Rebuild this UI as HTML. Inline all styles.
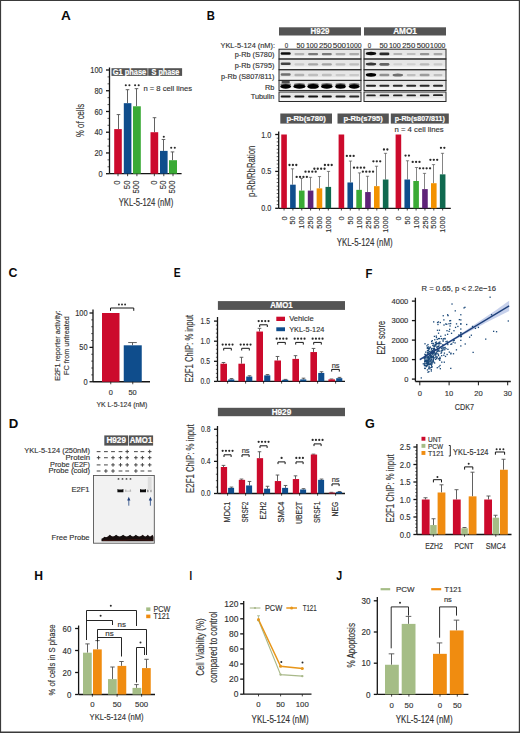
<!DOCTYPE html>
<html><head><meta charset="utf-8"><title>Figure</title>
<style>html,body{margin:0;padding:0;background:#fff;width:520px;height:733px;overflow:hidden}svg{display:block}
text{font-family:"Liberation Sans", sans-serif}</style></head>
<body><svg width="520" height="733" viewBox="0 0 520 733" font-family='"Liberation Sans", sans-serif' fill="#333"><rect x="0" y="0" width="520" height="733" fill="#fff"/>
<text x="61.10" y="19.50" font-size="13.7" font-weight="bold" fill="#0a0a0a" textLength="9.83" lengthAdjust="spacingAndGlyphs">A</text>
<rect x="111.50" y="68.20" width="70.60" height="7.70" fill="#545454"/>
<text x="146.80" y="74.55" font-size="7.5" stroke="#fff" stroke-width="0.2" text-anchor="middle" font-weight="bold" fill="#fff"></text>
<line x1="147.90" y1="68.20" x2="147.90" y2="75.90" stroke="#fff" stroke-width="0.6"/>
<text x="112.80" y="74.80" font-size="8.2" stroke="#fff" stroke-width="0.2" font-weight="bold" fill="#fff" textLength="33.40" lengthAdjust="spacingAndGlyphs">G1 phase</text>
<text x="151.60" y="74.80" font-size="8.2" stroke="#fff" stroke-width="0.2" font-weight="bold" fill="#fff" textLength="27.70" lengthAdjust="spacingAndGlyphs">S phase</text>
<line x1="109.50" y1="67.50" x2="109.50" y2="173.70" stroke="#151515" stroke-width="1.3"/>
<line x1="106.00" y1="173.70" x2="109.50" y2="173.70" stroke="#151515" stroke-width="1.3"/>
<text x="102.70" y="176.72" font-size="8.4" stroke="#333" stroke-width="0.15" text-anchor="end" textLength="4.11" lengthAdjust="spacingAndGlyphs">0</text>
<line x1="106.00" y1="152.96" x2="109.50" y2="152.96" stroke="#151515" stroke-width="1.3"/>
<text x="102.70" y="155.98" font-size="8.4" stroke="#333" stroke-width="0.15" text-anchor="end" textLength="8.22" lengthAdjust="spacingAndGlyphs">20</text>
<line x1="106.00" y1="132.22" x2="109.50" y2="132.22" stroke="#151515" stroke-width="1.3"/>
<text x="102.70" y="135.24" font-size="8.4" stroke="#333" stroke-width="0.15" text-anchor="end" textLength="8.22" lengthAdjust="spacingAndGlyphs">40</text>
<line x1="106.00" y1="111.48" x2="109.50" y2="111.48" stroke="#151515" stroke-width="1.3"/>
<text x="102.70" y="114.50" font-size="8.4" stroke="#333" stroke-width="0.15" text-anchor="end" textLength="8.22" lengthAdjust="spacingAndGlyphs">60</text>
<line x1="106.00" y1="90.74" x2="109.50" y2="90.74" stroke="#151515" stroke-width="1.3"/>
<text x="102.70" y="93.76" font-size="8.4" stroke="#333" stroke-width="0.15" text-anchor="end" textLength="8.22" lengthAdjust="spacingAndGlyphs">80</text>
<line x1="106.00" y1="70.00" x2="109.50" y2="70.00" stroke="#151515" stroke-width="1.3"/>
<text x="102.70" y="73.02" font-size="8.4" stroke="#333" stroke-width="0.15" text-anchor="end" textLength="12.33" lengthAdjust="spacingAndGlyphs">100</text>
<line x1="107.50" y1="166.79" x2="109.50" y2="166.79" stroke="#151515" stroke-width="0.7"/>
<line x1="107.50" y1="159.87" x2="109.50" y2="159.87" stroke="#151515" stroke-width="0.7"/>
<line x1="107.50" y1="146.05" x2="109.50" y2="146.05" stroke="#151515" stroke-width="0.7"/>
<line x1="107.50" y1="139.13" x2="109.50" y2="139.13" stroke="#151515" stroke-width="0.7"/>
<line x1="107.50" y1="125.31" x2="109.50" y2="125.31" stroke="#151515" stroke-width="0.7"/>
<line x1="107.50" y1="118.39" x2="109.50" y2="118.39" stroke="#151515" stroke-width="0.7"/>
<line x1="107.50" y1="104.57" x2="109.50" y2="104.57" stroke="#151515" stroke-width="0.7"/>
<line x1="107.50" y1="97.65" x2="109.50" y2="97.65" stroke="#151515" stroke-width="0.7"/>
<line x1="107.50" y1="83.83" x2="109.50" y2="83.83" stroke="#151515" stroke-width="0.7"/>
<line x1="107.50" y1="76.91" x2="109.50" y2="76.91" stroke="#151515" stroke-width="0.7"/>
<line x1="109.50" y1="173.70" x2="181.60" y2="173.70" stroke="#151515" stroke-width="1.3"/>
<line x1="118.50" y1="129.11" x2="118.50" y2="114.59" stroke="#505050" stroke-width="0.9"/>
<line x1="116.70" y1="114.59" x2="120.30" y2="114.59" stroke="#505050" stroke-width="0.9"/>
<rect x="114.20" y="129.11" width="7.60" height="44.59" fill="#cc0a2c"/>
<line x1="118.00" y1="173.70" x2="118.00" y2="176.20" stroke="#151515" stroke-width="0.8"/>
<text x="120.30" y="180.50" font-size="8.4" stroke="#333" stroke-width="0.15" text-anchor="end" transform="rotate(-90 120.30 180.50)" textLength="4.34" lengthAdjust="spacingAndGlyphs">0</text>
<line x1="127.50" y1="103.18" x2="127.50" y2="89.70" stroke="#505050" stroke-width="0.9"/>
<line x1="125.70" y1="89.70" x2="129.30" y2="89.70" stroke="#505050" stroke-width="0.9"/>
<rect x="123.80" y="103.18" width="7.60" height="70.52" fill="#0f4d8c"/>
<line x1="127.60" y1="173.70" x2="127.60" y2="176.20" stroke="#151515" stroke-width="0.8"/>
<text x="129.90" y="180.50" font-size="8.4" stroke="#333" stroke-width="0.15" text-anchor="end" transform="rotate(-90 129.90 180.50)" textLength="8.69" lengthAdjust="spacingAndGlyphs">50</text>
<line x1="136.50" y1="106.29" x2="136.50" y2="88.67" stroke="#505050" stroke-width="0.9"/>
<line x1="134.70" y1="88.67" x2="138.30" y2="88.67" stroke="#505050" stroke-width="0.9"/>
<rect x="133.00" y="106.29" width="7.80" height="67.41" fill="#3aaa35"/>
<line x1="136.90" y1="173.70" x2="136.90" y2="176.20" stroke="#151515" stroke-width="0.8"/>
<text x="139.20" y="180.50" font-size="8.4" stroke="#333" stroke-width="0.15" text-anchor="end" transform="rotate(-90 139.20 180.50)" textLength="13.03" lengthAdjust="spacingAndGlyphs">500</text>
<line x1="154.50" y1="132.22" x2="154.50" y2="117.70" stroke="#505050" stroke-width="0.9"/>
<line x1="152.70" y1="117.70" x2="156.30" y2="117.70" stroke="#505050" stroke-width="0.9"/>
<rect x="150.50" y="132.22" width="7.70" height="41.48" fill="#cc0a2c"/>
<line x1="154.35" y1="173.70" x2="154.35" y2="176.20" stroke="#151515" stroke-width="0.8"/>
<text x="156.65" y="180.50" font-size="8.4" stroke="#333" stroke-width="0.15" text-anchor="end" transform="rotate(-90 156.65 180.50)" textLength="4.34" lengthAdjust="spacingAndGlyphs">0</text>
<line x1="163.50" y1="150.89" x2="163.50" y2="139.48" stroke="#505050" stroke-width="0.9"/>
<line x1="161.70" y1="139.48" x2="165.30" y2="139.48" stroke="#505050" stroke-width="0.9"/>
<rect x="160.00" y="150.89" width="7.60" height="22.81" fill="#0f4d8c"/>
<line x1="163.80" y1="173.70" x2="163.80" y2="176.20" stroke="#151515" stroke-width="0.8"/>
<text x="166.10" y="180.50" font-size="8.4" stroke="#333" stroke-width="0.15" text-anchor="end" transform="rotate(-90 166.10 180.50)" textLength="8.69" lengthAdjust="spacingAndGlyphs">50</text>
<line x1="172.50" y1="160.22" x2="172.50" y2="151.92" stroke="#505050" stroke-width="0.9"/>
<line x1="170.70" y1="151.92" x2="174.30" y2="151.92" stroke="#505050" stroke-width="0.9"/>
<rect x="169.00" y="160.22" width="8.00" height="13.48" fill="#3aaa35"/>
<line x1="173.00" y1="173.70" x2="173.00" y2="176.20" stroke="#151515" stroke-width="0.8"/>
<text x="175.30" y="180.50" font-size="8.4" stroke="#333" stroke-width="0.15" text-anchor="end" transform="rotate(-90 175.30 180.50)" textLength="13.03" lengthAdjust="spacingAndGlyphs">500</text>
<circle cx="125.80" cy="85.20" r="1.05" fill="#2a2a2a"/>
<circle cx="129.40" cy="85.20" r="1.05" fill="#2a2a2a"/>
<circle cx="135.10" cy="85.20" r="1.05" fill="#2a2a2a"/>
<circle cx="138.70" cy="85.20" r="1.05" fill="#2a2a2a"/>
<circle cx="163.80" cy="136.80" r="1.05" fill="#2a2a2a"/>
<circle cx="171.20" cy="147.80" r="1.05" fill="#2a2a2a"/>
<circle cx="174.80" cy="147.80" r="1.05" fill="#2a2a2a"/>
<text x="143.40" y="91.20" font-size="7.8" stroke="#333" stroke-width="0.15" textLength="48.60" lengthAdjust="spacingAndGlyphs">n = 8 cell lines</text>
<text x="146.00" y="206.40" font-size="10.3" stroke="#333" stroke-width="0.15" text-anchor="middle" textLength="54.60" lengthAdjust="spacingAndGlyphs">YKL-5-124 (nM)</text>
<text x="84.20" y="120.40" font-size="10" stroke="#333" stroke-width="0.15" text-anchor="middle" transform="rotate(-90 84.20 120.40)" textLength="33.00" lengthAdjust="spacingAndGlyphs">% of cells</text>
<text x="206.80" y="19.70" font-size="13.7" font-weight="bold" fill="#0a0a0a" textLength="8.12" lengthAdjust="spacingAndGlyphs">B</text>
<rect x="279.00" y="27.30" width="82.00" height="8.20" fill="#545454"/>
<text x="320.00" y="34.15" font-size="8.2" stroke="#fff" stroke-width="0.2" text-anchor="middle" font-weight="bold" fill="#fff" textLength="18.80" lengthAdjust="spacingAndGlyphs">H929</text>
<rect x="364.00" y="27.30" width="82.00" height="8.20" fill="#545454"/>
<text x="405.00" y="34.15" font-size="8.2" stroke="#fff" stroke-width="0.2" text-anchor="middle" font-weight="bold" fill="#fff" textLength="23.70" lengthAdjust="spacingAndGlyphs">AMO1</text>
<text x="275.00" y="48.10" font-size="7.4" stroke="#333" stroke-width="0.15" text-anchor="end" textLength="54.50" lengthAdjust="spacingAndGlyphs">YKL-5-124 (nM):</text>
<text x="286.40" y="48.00" font-size="8" stroke="#333" stroke-width="0.15" text-anchor="middle" textLength="3.40" lengthAdjust="spacingAndGlyphs">0</text>
<text x="300.40" y="48.00" font-size="8" stroke="#333" stroke-width="0.15" text-anchor="middle" textLength="8.00" lengthAdjust="spacingAndGlyphs">50</text>
<text x="311.85" y="48.00" font-size="8" stroke="#333" stroke-width="0.15" text-anchor="middle" textLength="11.90" lengthAdjust="spacingAndGlyphs">100</text>
<text x="325.45" y="48.00" font-size="8" stroke="#333" stroke-width="0.15" text-anchor="middle" textLength="12.90" lengthAdjust="spacingAndGlyphs">250</text>
<text x="339.40" y="48.00" font-size="8" stroke="#333" stroke-width="0.15" text-anchor="middle" textLength="13.40" lengthAdjust="spacingAndGlyphs">500</text>
<text x="353.95" y="48.00" font-size="8" stroke="#333" stroke-width="0.15" text-anchor="middle" textLength="15.30" lengthAdjust="spacingAndGlyphs">1000</text>
<text x="369.40" y="48.00" font-size="8" stroke="#333" stroke-width="0.15" text-anchor="middle" textLength="3.40" lengthAdjust="spacingAndGlyphs">0</text>
<text x="383.55" y="48.00" font-size="8" stroke="#333" stroke-width="0.15" text-anchor="middle" textLength="8.30" lengthAdjust="spacingAndGlyphs">50</text>
<text x="394.85" y="48.00" font-size="8" stroke="#333" stroke-width="0.15" text-anchor="middle" textLength="11.90" lengthAdjust="spacingAndGlyphs">100</text>
<text x="408.75" y="48.00" font-size="8" stroke="#333" stroke-width="0.15" text-anchor="middle" textLength="12.90" lengthAdjust="spacingAndGlyphs">250</text>
<text x="423.15" y="48.00" font-size="8" stroke="#333" stroke-width="0.15" text-anchor="middle" textLength="12.90" lengthAdjust="spacingAndGlyphs">500</text>
<text x="437.75" y="48.00" font-size="8" stroke="#333" stroke-width="0.15" text-anchor="middle" textLength="15.30" lengthAdjust="spacingAndGlyphs">1000</text>
<text x="274.40" y="56.80" font-size="7.3" stroke="#333" stroke-width="0.15" text-anchor="end">p-Rb (S780)</text>
<text x="274.40" y="67.90" font-size="7.3" stroke="#333" stroke-width="0.15" text-anchor="end">p-Rb (S795)</text>
<text x="274.40" y="78.80" font-size="7.3" stroke="#333" stroke-width="0.15" text-anchor="end">p-Rb (S807/811)</text>
<text x="274.40" y="89.80" font-size="7.3" stroke="#333" stroke-width="0.15" text-anchor="end">Rb</text>
<text x="274.40" y="99.20" font-size="7.3" stroke="#333" stroke-width="0.15" text-anchor="end">Tubulin</text>
<defs><filter id="bl" x="-20%" y="-50%" width="140%" height="200%"><feGaussianBlur stdDeviation="0.55"/></filter><filter id="bl2" x="-20%" y="-50%" width="140%" height="200%"><feGaussianBlur stdDeviation="0.9"/></filter></defs>
<rect x="279.00" y="49.20" width="82.00" height="9.80" fill="#e6e6e6"/>
<rect x="279.50" y="55.80" width="81.00" height="2.60" fill="#f4f4f4"/>
<rect x="279.00" y="59.00" width="82.00" height="10.70" fill="#e6e6e6"/>
<rect x="279.50" y="66.50" width="81.00" height="2.60" fill="#f4f4f4"/>
<rect x="279.00" y="69.70" width="82.00" height="10.70" fill="#e6e6e6"/>
<rect x="279.50" y="77.20" width="81.00" height="2.60" fill="#f4f4f4"/>
<rect x="279.00" y="80.40" width="82.00" height="10.10" fill="#e6e6e6"/>
<rect x="279.50" y="87.30" width="81.00" height="2.60" fill="#f4f4f4"/>
<rect x="279.00" y="92.00" width="82.00" height="9.50" fill="#e6e6e6"/>
<rect x="279.50" y="98.30" width="81.00" height="2.60" fill="#f4f4f4"/>
<rect x="280.70" y="52.20" width="10.00" height="2.60" rx="1.30" fill="rgb(10,10,10)" filter="url(#bl)"/>
<rect x="294.40" y="53.00" width="10.00" height="2.20" rx="1.10" fill="rgb(178,178,178)" filter="url(#bl)"/>
<rect x="308.10" y="52.90" width="10.00" height="2.40" rx="1.20" fill="rgb(122,122,122)" filter="url(#bl)"/>
<rect x="321.80" y="52.90" width="10.00" height="2.40" rx="1.20" fill="rgb(122,122,122)" filter="url(#bl)"/>
<rect x="335.50" y="53.00" width="10.00" height="2.20" rx="1.10" fill="rgb(172,172,172)" filter="url(#bl)"/>
<rect x="349.20" y="53.00" width="10.00" height="2.20" rx="1.10" fill="rgb(172,172,172)" filter="url(#bl)"/>
<rect x="280.70" y="62.45" width="10.00" height="2.60" rx="1.30" fill="rgb(66,66,66)" filter="url(#bl)"/>
<rect x="294.40" y="63.25" width="10.00" height="2.20" rx="1.10" fill="rgb(201,201,201)" filter="url(#bl)"/>
<rect x="308.10" y="63.15" width="10.00" height="2.40" rx="1.20" fill="rgb(167,167,167)" filter="url(#bl)"/>
<rect x="321.80" y="63.15" width="10.00" height="2.40" rx="1.20" fill="rgb(163,163,163)" filter="url(#bl)"/>
<rect x="335.50" y="63.25" width="10.00" height="2.20" rx="1.10" fill="rgb(190,190,190)" filter="url(#bl)"/>
<rect x="349.20" y="63.25" width="10.00" height="2.20" rx="1.10" fill="rgb(190,190,190)" filter="url(#bl)"/>
<rect x="280.70" y="73.15" width="10.00" height="2.60" rx="1.30" fill="rgb(111,111,111)" filter="url(#bl)"/>
<rect x="294.40" y="73.75" width="10.00" height="2.60" rx="1.30" fill="rgb(178,178,178)" filter="url(#bl)"/>
<rect x="308.10" y="73.85" width="10.00" height="2.40" rx="1.20" fill="rgb(190,190,190)" filter="url(#bl)"/>
<rect x="321.80" y="73.85" width="10.00" height="2.40" rx="1.20" fill="rgb(190,190,190)" filter="url(#bl)"/>
<rect x="335.50" y="73.95" width="10.00" height="2.20" rx="1.10" fill="rgb(201,201,201)" filter="url(#bl)"/>
<rect x="349.20" y="73.95" width="10.00" height="2.20" rx="1.10" fill="rgb(201,201,201)" filter="url(#bl)"/>
<rect x="281.45" y="80.95" width="8.50" height="2.20" rx="1.10" fill="rgb(77,77,77)" filter="url(#bl)"/>
<ellipse cx="285.70" cy="84.45" rx="5.25" ry="1.50" fill="rgb(111,111,111)" filter="url(#bl)"/>
<ellipse cx="285.70" cy="86.45" rx="5.50" ry="2.20" fill="rgb(-23,-23,-23)" filter="url(#bl)"/>
<ellipse cx="299.40" cy="84.45" rx="5.50" ry="1.50" fill="rgb(111,111,111)" filter="url(#bl)"/>
<ellipse cx="299.40" cy="86.45" rx="6.00" ry="2.30" fill="rgb(-23,-23,-23)" filter="url(#bl)"/>
<ellipse cx="313.10" cy="84.45" rx="5.50" ry="1.50" fill="rgb(111,111,111)" filter="url(#bl)"/>
<ellipse cx="313.10" cy="86.45" rx="5.75" ry="2.40" fill="rgb(-23,-23,-23)" filter="url(#bl)"/>
<ellipse cx="326.80" cy="84.45" rx="5.50" ry="1.50" fill="rgb(111,111,111)" filter="url(#bl)"/>
<ellipse cx="326.80" cy="86.45" rx="5.75" ry="2.30" fill="rgb(-23,-23,-23)" filter="url(#bl)"/>
<ellipse cx="340.50" cy="84.45" rx="5.00" ry="1.50" fill="rgb(111,111,111)" filter="url(#bl)"/>
<ellipse cx="340.50" cy="86.45" rx="5.25" ry="2.20" fill="rgb(-12,-12,-12)" filter="url(#bl)"/>
<ellipse cx="354.20" cy="84.45" rx="5.25" ry="1.50" fill="rgb(111,111,111)" filter="url(#bl)"/>
<ellipse cx="354.20" cy="86.45" rx="5.50" ry="2.20" fill="rgb(-12,-12,-12)" filter="url(#bl)"/>
<rect x="280.70" y="95.60" width="10.00" height="2.00" rx="1.00" fill="rgb(21,21,21)" filter="url(#bl)"/>
<rect x="294.40" y="95.60" width="10.00" height="2.00" rx="1.00" fill="rgb(21,21,21)" filter="url(#bl)"/>
<rect x="308.10" y="95.60" width="10.00" height="2.00" rx="1.00" fill="rgb(21,21,21)" filter="url(#bl)"/>
<rect x="321.80" y="95.60" width="10.00" height="2.00" rx="1.00" fill="rgb(21,21,21)" filter="url(#bl)"/>
<rect x="335.50" y="95.60" width="10.00" height="2.00" rx="1.00" fill="rgb(32,32,32)" filter="url(#bl)"/>
<rect x="349.20" y="95.60" width="10.00" height="2.00" rx="1.00" fill="rgb(43,43,43)" filter="url(#bl)"/>
<rect x="279.00" y="49.20" width="82.00" height="9.80" fill="none" stroke="#2a2a2a" stroke-width="1"/>
<rect x="279.00" y="59.00" width="82.00" height="10.70" fill="none" stroke="#2a2a2a" stroke-width="1"/>
<rect x="279.00" y="69.70" width="82.00" height="10.70" fill="none" stroke="#2a2a2a" stroke-width="1"/>
<rect x="279.00" y="80.40" width="82.00" height="10.10" fill="none" stroke="#2a2a2a" stroke-width="1"/>
<rect x="279.00" y="92.00" width="82.00" height="9.50" fill="none" stroke="#2a2a2a" stroke-width="1"/>
<rect x="364.00" y="49.20" width="82.00" height="9.80" fill="#e6e6e6"/>
<rect x="364.50" y="55.80" width="81.00" height="2.60" fill="#f4f4f4"/>
<rect x="364.00" y="59.00" width="82.00" height="10.70" fill="#e6e6e6"/>
<rect x="364.50" y="66.50" width="81.00" height="2.60" fill="#f4f4f4"/>
<rect x="364.00" y="69.70" width="82.00" height="10.70" fill="#e6e6e6"/>
<rect x="364.50" y="77.20" width="81.00" height="2.60" fill="#f4f4f4"/>
<rect x="364.00" y="80.40" width="82.00" height="10.10" fill="#e6e6e6"/>
<rect x="364.50" y="87.30" width="81.00" height="2.60" fill="#f4f4f4"/>
<rect x="364.00" y="92.00" width="82.00" height="9.50" fill="#e6e6e6"/>
<rect x="364.50" y="98.30" width="81.00" height="2.60" fill="#f4f4f4"/>
<ellipse cx="371.00" cy="53.50" rx="5.25" ry="1.70" fill="rgb(10,10,10)" filter="url(#bl)"/>
<rect x="379.40" y="52.50" width="10.00" height="2.80" rx="1.40" fill="rgb(43,43,43)" filter="url(#bl)"/>
<rect x="393.30" y="53.10" width="9.00" height="2.00" rx="1.00" fill="rgb(178,178,178)" filter="url(#bl)"/>
<rect x="406.70" y="53.10" width="9.00" height="2.00" rx="1.00" fill="rgb(190,190,190)" filter="url(#bl)"/>
<rect x="419.85" y="52.90" width="9.50" height="2.40" rx="1.20" fill="rgb(149,149,149)" filter="url(#bl)"/>
<rect x="433.50" y="53.00" width="9.00" height="2.20" rx="1.10" fill="rgb(167,167,167)" filter="url(#bl)"/>
<ellipse cx="371.00" cy="63.95" rx="5.25" ry="1.50" fill="rgb(55,55,55)" filter="url(#bl)"/>
<rect x="379.40" y="62.95" width="10.00" height="2.80" rx="1.40" fill="rgb(100,100,100)" filter="url(#bl)"/>
<rect x="393.30" y="63.35" width="9.00" height="2.00" rx="1.00" fill="rgb(208,208,208)" filter="url(#bl)"/>
<rect x="406.70" y="63.35" width="9.00" height="2.00" rx="1.00" fill="rgb(208,208,208)" filter="url(#bl)"/>
<rect x="419.85" y="63.15" width="9.50" height="2.40" rx="1.20" fill="rgb(185,185,185)" filter="url(#bl)"/>
<rect x="433.50" y="63.25" width="9.00" height="2.20" rx="1.10" fill="rgb(201,201,201)" filter="url(#bl)"/>
<ellipse cx="371.00" cy="74.85" rx="5.25" ry="1.90" fill="rgb(-1,-1,-1)" filter="url(#bl)"/>
<rect x="379.40" y="73.75" width="10.00" height="2.60" rx="1.30" fill="rgb(145,145,145)" filter="url(#bl)"/>
<ellipse cx="397.80" cy="75.05" rx="5.25" ry="1.50" fill="rgb(111,111,111)" filter="url(#bl)"/>
<rect x="406.70" y="73.95" width="9.00" height="2.20" rx="1.10" fill="rgb(190,190,190)" filter="url(#bl)"/>
<rect x="419.60" y="73.75" width="10.00" height="2.60" rx="1.30" fill="rgb(156,156,156)" filter="url(#bl)"/>
<rect x="433.50" y="73.95" width="9.00" height="2.20" rx="1.10" fill="rgb(190,190,190)" filter="url(#bl)"/>
<rect x="366.00" y="84.65" width="10.00" height="2.00" rx="1.00" fill="rgb(32,32,32)" filter="url(#bl)"/>
<rect x="379.40" y="84.65" width="10.00" height="2.00" rx="1.00" fill="rgb(43,43,43)" filter="url(#bl)"/>
<rect x="392.80" y="84.65" width="10.00" height="2.00" rx="1.00" fill="rgb(43,43,43)" filter="url(#bl)"/>
<rect x="406.20" y="84.65" width="10.00" height="2.00" rx="1.00" fill="rgb(43,43,43)" filter="url(#bl)"/>
<rect x="419.60" y="84.65" width="10.00" height="2.00" rx="1.00" fill="rgb(43,43,43)" filter="url(#bl)"/>
<rect x="433.00" y="84.65" width="10.00" height="2.00" rx="1.00" fill="rgb(43,43,43)" filter="url(#bl)"/>
<rect x="366.25" y="94.45" width="9.50" height="1.90" rx="0.95" fill="rgb(32,32,32)" filter="url(#bl)"/>
<rect x="379.65" y="94.45" width="9.50" height="1.90" rx="0.95" fill="rgb(32,32,32)" filter="url(#bl)"/>
<rect x="393.05" y="94.45" width="9.50" height="1.90" rx="0.95" fill="rgb(32,32,32)" filter="url(#bl)"/>
<rect x="406.45" y="94.45" width="9.50" height="1.90" rx="0.95" fill="rgb(32,32,32)" filter="url(#bl)"/>
<rect x="419.85" y="94.45" width="9.50" height="1.90" rx="0.95" fill="rgb(32,32,32)" filter="url(#bl)"/>
<rect x="433.00" y="94.20" width="10.00" height="1.90" rx="0.95" fill="rgb(32,32,32)" filter="url(#bl)"/>
<rect x="364.00" y="49.20" width="82.00" height="9.80" fill="none" stroke="#2a2a2a" stroke-width="1"/>
<rect x="364.00" y="59.00" width="82.00" height="10.70" fill="none" stroke="#2a2a2a" stroke-width="1"/>
<rect x="364.00" y="69.70" width="82.00" height="10.70" fill="none" stroke="#2a2a2a" stroke-width="1"/>
<rect x="364.00" y="80.40" width="82.00" height="10.10" fill="none" stroke="#2a2a2a" stroke-width="1"/>
<rect x="364.00" y="92.00" width="82.00" height="9.50" fill="none" stroke="#2a2a2a" stroke-width="1"/>
<rect x="280.30" y="113.50" width="51.70" height="10.10" fill="#545454"/>
<text x="306.15" y="121.23" font-size="8.0" stroke="#fff" stroke-width="0.2" text-anchor="middle" font-weight="bold" fill="#fff" textLength="39.50" lengthAdjust="spacingAndGlyphs">p-Rb(s780)</text>
<rect x="337.50" y="113.50" width="51.30" height="10.10" fill="#545454"/>
<text x="363.15" y="121.23" font-size="8.0" stroke="#fff" stroke-width="0.2" text-anchor="middle" font-weight="bold" fill="#fff" textLength="39.50" lengthAdjust="spacingAndGlyphs">p-Rb(s795)</text>
<rect x="390.80" y="113.50" width="58.00" height="10.10" fill="#545454"/>
<text x="419.80" y="121.23" font-size="8.0" stroke="#fff" stroke-width="0.2" text-anchor="middle" font-weight="bold" fill="#fff" textLength="50.00" lengthAdjust="spacingAndGlyphs">p-Rb(s807/811)</text>
<line x1="278.70" y1="131.60" x2="278.70" y2="208.30" stroke="#151515" stroke-width="1.3"/>
<line x1="275.20" y1="208.30" x2="278.70" y2="208.30" stroke="#151515" stroke-width="1.3"/>
<text x="271.20" y="211.32" font-size="8.4" stroke="#333" stroke-width="0.15" text-anchor="end" textLength="10.04" lengthAdjust="spacingAndGlyphs">0.0</text>
<line x1="275.20" y1="171.40" x2="278.70" y2="171.40" stroke="#151515" stroke-width="1.3"/>
<text x="271.20" y="174.42" font-size="8.4" stroke="#333" stroke-width="0.15" text-anchor="end" textLength="10.04" lengthAdjust="spacingAndGlyphs">0.5</text>
<line x1="275.20" y1="134.50" x2="278.70" y2="134.50" stroke="#151515" stroke-width="1.3"/>
<text x="271.20" y="137.52" font-size="8.4" stroke="#333" stroke-width="0.15" text-anchor="end" textLength="10.04" lengthAdjust="spacingAndGlyphs">1.0</text>
<line x1="276.70" y1="204.61" x2="278.70" y2="204.61" stroke="#151515" stroke-width="0.7"/>
<line x1="276.70" y1="200.92" x2="278.70" y2="200.92" stroke="#151515" stroke-width="0.7"/>
<line x1="276.70" y1="197.23" x2="278.70" y2="197.23" stroke="#151515" stroke-width="0.7"/>
<line x1="276.70" y1="193.54" x2="278.70" y2="193.54" stroke="#151515" stroke-width="0.7"/>
<line x1="276.70" y1="189.85" x2="278.70" y2="189.85" stroke="#151515" stroke-width="0.7"/>
<line x1="276.70" y1="186.16" x2="278.70" y2="186.16" stroke="#151515" stroke-width="0.7"/>
<line x1="276.70" y1="182.47" x2="278.70" y2="182.47" stroke="#151515" stroke-width="0.7"/>
<line x1="276.70" y1="178.78" x2="278.70" y2="178.78" stroke="#151515" stroke-width="0.7"/>
<line x1="276.70" y1="175.09" x2="278.70" y2="175.09" stroke="#151515" stroke-width="0.7"/>
<line x1="276.70" y1="167.71" x2="278.70" y2="167.71" stroke="#151515" stroke-width="0.7"/>
<line x1="276.70" y1="164.02" x2="278.70" y2="164.02" stroke="#151515" stroke-width="0.7"/>
<line x1="276.70" y1="160.33" x2="278.70" y2="160.33" stroke="#151515" stroke-width="0.7"/>
<line x1="276.70" y1="156.64" x2="278.70" y2="156.64" stroke="#151515" stroke-width="0.7"/>
<line x1="276.70" y1="152.95" x2="278.70" y2="152.95" stroke="#151515" stroke-width="0.7"/>
<line x1="276.70" y1="149.26" x2="278.70" y2="149.26" stroke="#151515" stroke-width="0.7"/>
<line x1="276.70" y1="145.57" x2="278.70" y2="145.57" stroke="#151515" stroke-width="0.7"/>
<line x1="276.70" y1="141.88" x2="278.70" y2="141.88" stroke="#151515" stroke-width="0.7"/>
<line x1="276.70" y1="138.19" x2="278.70" y2="138.19" stroke="#151515" stroke-width="0.7"/>
<line x1="278.70" y1="208.30" x2="450.80" y2="208.30" stroke="#151515" stroke-width="1.3"/>
<rect x="281.25" y="134.50" width="5.60" height="73.80" fill="#cc0a2c"/>
<line x1="284.05" y1="208.30" x2="284.05" y2="210.50" stroke="#151515" stroke-width="0.8"/>
<text x="286.65" y="216.30" font-size="7.4" stroke="#333" stroke-width="0.15" text-anchor="end" transform="rotate(-90 286.65 216.30)">0</text>
<line x1="292.50" y1="184.68" x2="292.50" y2="168.82" stroke="#505050" stroke-width="0.7"/>
<line x1="290.90" y1="168.82" x2="294.10" y2="168.82" stroke="#505050" stroke-width="0.7"/>
<rect x="290.10" y="184.68" width="5.60" height="23.62" fill="#0f4d8c"/>
<line x1="292.90" y1="208.30" x2="292.90" y2="210.50" stroke="#151515" stroke-width="0.8"/>
<text x="295.50" y="216.30" font-size="7.4" stroke="#333" stroke-width="0.15" text-anchor="end" transform="rotate(-90 295.50 216.30)">50</text>
<circle cx="289.50" cy="165.00" r="1.15" fill="#2a2a2a"/>
<circle cx="292.90" cy="165.00" r="1.15" fill="#2a2a2a"/>
<circle cx="296.30" cy="165.00" r="1.15" fill="#2a2a2a"/>
<line x1="301.50" y1="190.59" x2="301.50" y2="178.41" stroke="#505050" stroke-width="0.7"/>
<line x1="299.90" y1="178.41" x2="303.10" y2="178.41" stroke="#505050" stroke-width="0.7"/>
<rect x="298.95" y="190.59" width="5.60" height="17.71" fill="#3aaa35"/>
<line x1="301.75" y1="208.30" x2="301.75" y2="210.50" stroke="#151515" stroke-width="0.8"/>
<text x="304.35" y="216.30" font-size="7.4" stroke="#333" stroke-width="0.15" text-anchor="end" transform="rotate(-90 304.35 216.30)">100</text>
<circle cx="296.65" cy="176.90" r="1.15" fill="#2a2a2a"/>
<circle cx="300.05" cy="176.90" r="1.15" fill="#2a2a2a"/>
<circle cx="303.45" cy="176.90" r="1.15" fill="#2a2a2a"/>
<circle cx="306.85" cy="176.90" r="1.15" fill="#2a2a2a"/>
<line x1="310.50" y1="190.59" x2="310.50" y2="177.30" stroke="#505050" stroke-width="0.7"/>
<line x1="308.90" y1="177.30" x2="312.10" y2="177.30" stroke="#505050" stroke-width="0.7"/>
<rect x="307.80" y="190.59" width="5.60" height="17.71" fill="#5e2378"/>
<line x1="310.60" y1="208.30" x2="310.60" y2="210.50" stroke="#151515" stroke-width="0.8"/>
<text x="313.20" y="216.30" font-size="7.4" stroke="#333" stroke-width="0.15" text-anchor="end" transform="rotate(-90 313.20 216.30)">250</text>
<circle cx="305.50" cy="171.70" r="1.15" fill="#2a2a2a"/>
<circle cx="308.90" cy="171.70" r="1.15" fill="#2a2a2a"/>
<circle cx="312.30" cy="171.70" r="1.15" fill="#2a2a2a"/>
<circle cx="315.70" cy="171.70" r="1.15" fill="#2a2a2a"/>
<line x1="319.50" y1="188.37" x2="319.50" y2="176.57" stroke="#505050" stroke-width="0.7"/>
<line x1="317.90" y1="176.57" x2="321.10" y2="176.57" stroke="#505050" stroke-width="0.7"/>
<rect x="316.65" y="188.37" width="5.60" height="19.93" fill="#f39200"/>
<line x1="319.45" y1="208.30" x2="319.45" y2="210.50" stroke="#151515" stroke-width="0.8"/>
<text x="322.05" y="216.30" font-size="7.4" stroke="#333" stroke-width="0.15" text-anchor="end" transform="rotate(-90 322.05 216.30)">500</text>
<circle cx="314.35" cy="168.75" r="1.15" fill="#2a2a2a"/>
<circle cx="317.75" cy="168.75" r="1.15" fill="#2a2a2a"/>
<circle cx="321.15" cy="168.75" r="1.15" fill="#2a2a2a"/>
<circle cx="324.55" cy="168.75" r="1.15" fill="#2a2a2a"/>
<line x1="328.50" y1="186.90" x2="328.50" y2="171.40" stroke="#505050" stroke-width="0.7"/>
<line x1="326.90" y1="171.40" x2="330.10" y2="171.40" stroke="#505050" stroke-width="0.7"/>
<rect x="325.50" y="186.90" width="5.60" height="21.40" fill="#10694f"/>
<line x1="328.30" y1="208.30" x2="328.30" y2="210.50" stroke="#151515" stroke-width="0.8"/>
<text x="330.90" y="216.30" font-size="7.4" stroke="#333" stroke-width="0.15" text-anchor="end" transform="rotate(-90 330.90 216.30)">1000</text>
<circle cx="324.90" cy="165.00" r="1.15" fill="#2a2a2a"/>
<circle cx="328.30" cy="165.00" r="1.15" fill="#2a2a2a"/>
<circle cx="331.70" cy="165.00" r="1.15" fill="#2a2a2a"/>
<rect x="338.60" y="134.50" width="5.60" height="73.80" fill="#cc0a2c"/>
<line x1="341.40" y1="208.30" x2="341.40" y2="210.50" stroke="#151515" stroke-width="0.8"/>
<text x="344.00" y="216.30" font-size="7.4" stroke="#333" stroke-width="0.15" text-anchor="end" transform="rotate(-90 344.00 216.30)">0</text>
<line x1="350.50" y1="182.47" x2="350.50" y2="161.07" stroke="#505050" stroke-width="0.7"/>
<line x1="348.90" y1="161.07" x2="352.10" y2="161.07" stroke="#505050" stroke-width="0.7"/>
<rect x="347.45" y="182.47" width="5.60" height="25.83" fill="#0f4d8c"/>
<line x1="350.25" y1="208.30" x2="350.25" y2="210.50" stroke="#151515" stroke-width="0.8"/>
<text x="352.85" y="216.30" font-size="7.4" stroke="#333" stroke-width="0.15" text-anchor="end" transform="rotate(-90 352.85 216.30)">50</text>
<circle cx="346.85" cy="155.90" r="1.15" fill="#2a2a2a"/>
<circle cx="350.25" cy="155.90" r="1.15" fill="#2a2a2a"/>
<circle cx="353.65" cy="155.90" r="1.15" fill="#2a2a2a"/>
<line x1="359.50" y1="189.85" x2="359.50" y2="172.88" stroke="#505050" stroke-width="0.7"/>
<line x1="357.90" y1="172.88" x2="361.10" y2="172.88" stroke="#505050" stroke-width="0.7"/>
<rect x="356.30" y="189.85" width="5.60" height="18.45" fill="#3aaa35"/>
<line x1="359.10" y1="208.30" x2="359.10" y2="210.50" stroke="#151515" stroke-width="0.8"/>
<text x="361.70" y="216.30" font-size="7.4" stroke="#333" stroke-width="0.15" text-anchor="end" transform="rotate(-90 361.70 216.30)">100</text>
<circle cx="354.00" cy="167.70" r="1.15" fill="#2a2a2a"/>
<circle cx="357.40" cy="167.70" r="1.15" fill="#2a2a2a"/>
<circle cx="360.80" cy="167.70" r="1.15" fill="#2a2a2a"/>
<circle cx="364.20" cy="167.70" r="1.15" fill="#2a2a2a"/>
<line x1="367.50" y1="192.06" x2="367.50" y2="176.27" stroke="#505050" stroke-width="0.7"/>
<line x1="365.90" y1="176.27" x2="369.10" y2="176.27" stroke="#505050" stroke-width="0.7"/>
<rect x="365.15" y="192.06" width="5.60" height="16.24" fill="#5e2378"/>
<line x1="367.95" y1="208.30" x2="367.95" y2="210.50" stroke="#151515" stroke-width="0.8"/>
<text x="370.55" y="216.30" font-size="7.4" stroke="#333" stroke-width="0.15" text-anchor="end" transform="rotate(-90 370.55 216.30)">250</text>
<circle cx="362.85" cy="171.70" r="1.15" fill="#2a2a2a"/>
<circle cx="366.25" cy="171.70" r="1.15" fill="#2a2a2a"/>
<circle cx="369.65" cy="171.70" r="1.15" fill="#2a2a2a"/>
<circle cx="373.05" cy="171.70" r="1.15" fill="#2a2a2a"/>
<line x1="376.50" y1="186.16" x2="376.50" y2="166.23" stroke="#505050" stroke-width="0.7"/>
<line x1="374.90" y1="166.23" x2="378.10" y2="166.23" stroke="#505050" stroke-width="0.7"/>
<rect x="374.00" y="186.16" width="5.60" height="22.14" fill="#f39200"/>
<line x1="376.80" y1="208.30" x2="376.80" y2="210.50" stroke="#151515" stroke-width="0.8"/>
<text x="379.40" y="216.30" font-size="7.4" stroke="#333" stroke-width="0.15" text-anchor="end" transform="rotate(-90 379.40 216.30)">500</text>
<circle cx="373.40" cy="161.30" r="1.15" fill="#2a2a2a"/>
<circle cx="376.80" cy="161.30" r="1.15" fill="#2a2a2a"/>
<circle cx="380.20" cy="161.30" r="1.15" fill="#2a2a2a"/>
<line x1="385.50" y1="179.52" x2="385.50" y2="153.32" stroke="#505050" stroke-width="0.7"/>
<line x1="383.90" y1="153.32" x2="387.10" y2="153.32" stroke="#505050" stroke-width="0.7"/>
<rect x="382.85" y="179.52" width="5.60" height="28.78" fill="#10694f"/>
<line x1="385.65" y1="208.30" x2="385.65" y2="210.50" stroke="#151515" stroke-width="0.8"/>
<text x="388.25" y="216.30" font-size="7.4" stroke="#333" stroke-width="0.15" text-anchor="end" transform="rotate(-90 388.25 216.30)">1000</text>
<circle cx="383.95" cy="149.50" r="1.15" fill="#2a2a2a"/>
<circle cx="387.35" cy="149.50" r="1.15" fill="#2a2a2a"/>
<rect x="395.60" y="134.50" width="5.60" height="73.80" fill="#cc0a2c"/>
<line x1="398.40" y1="208.30" x2="398.40" y2="210.50" stroke="#151515" stroke-width="0.8"/>
<text x="401.00" y="216.30" font-size="7.4" stroke="#333" stroke-width="0.15" text-anchor="end" transform="rotate(-90 401.00 216.30)">0</text>
<line x1="407.50" y1="179.52" x2="407.50" y2="160.77" stroke="#505050" stroke-width="0.7"/>
<line x1="405.90" y1="160.77" x2="409.10" y2="160.77" stroke="#505050" stroke-width="0.7"/>
<rect x="404.45" y="179.52" width="5.60" height="28.78" fill="#0f4d8c"/>
<line x1="407.25" y1="208.30" x2="407.25" y2="210.50" stroke="#151515" stroke-width="0.8"/>
<text x="409.85" y="216.30" font-size="7.4" stroke="#333" stroke-width="0.15" text-anchor="end" transform="rotate(-90 409.85 216.30)">50</text>
<circle cx="405.55" cy="155.60" r="1.15" fill="#2a2a2a"/>
<circle cx="408.95" cy="155.60" r="1.15" fill="#2a2a2a"/>
<line x1="416.50" y1="180.99" x2="416.50" y2="167.49" stroke="#505050" stroke-width="0.7"/>
<line x1="414.90" y1="167.49" x2="418.10" y2="167.49" stroke="#505050" stroke-width="0.7"/>
<rect x="413.30" y="180.99" width="5.60" height="27.31" fill="#3aaa35"/>
<line x1="416.10" y1="208.30" x2="416.10" y2="210.50" stroke="#151515" stroke-width="0.8"/>
<text x="418.70" y="216.30" font-size="7.4" stroke="#333" stroke-width="0.15" text-anchor="end" transform="rotate(-90 418.70 216.30)">100</text>
<circle cx="412.70" cy="161.90" r="1.15" fill="#2a2a2a"/>
<circle cx="416.10" cy="161.90" r="1.15" fill="#2a2a2a"/>
<circle cx="419.50" cy="161.90" r="1.15" fill="#2a2a2a"/>
<line x1="424.50" y1="189.11" x2="424.50" y2="173.39" stroke="#505050" stroke-width="0.7"/>
<line x1="422.90" y1="173.39" x2="426.10" y2="173.39" stroke="#505050" stroke-width="0.7"/>
<rect x="422.15" y="189.11" width="5.60" height="19.19" fill="#5e2378"/>
<line x1="424.95" y1="208.30" x2="424.95" y2="210.50" stroke="#151515" stroke-width="0.8"/>
<text x="427.55" y="216.30" font-size="7.4" stroke="#333" stroke-width="0.15" text-anchor="end" transform="rotate(-90 427.55 216.30)">250</text>
<circle cx="419.85" cy="168.30" r="1.15" fill="#2a2a2a"/>
<circle cx="423.25" cy="168.30" r="1.15" fill="#2a2a2a"/>
<circle cx="426.65" cy="168.30" r="1.15" fill="#2a2a2a"/>
<circle cx="430.05" cy="168.30" r="1.15" fill="#2a2a2a"/>
<line x1="433.50" y1="183.21" x2="433.50" y2="164.61" stroke="#505050" stroke-width="0.7"/>
<line x1="431.90" y1="164.61" x2="435.10" y2="164.61" stroke="#505050" stroke-width="0.7"/>
<rect x="431.00" y="183.21" width="5.60" height="25.09" fill="#f39200"/>
<line x1="433.80" y1="208.30" x2="433.80" y2="210.50" stroke="#151515" stroke-width="0.8"/>
<text x="436.40" y="216.30" font-size="7.4" stroke="#333" stroke-width="0.15" text-anchor="end" transform="rotate(-90 436.40 216.30)">500</text>
<circle cx="430.40" cy="159.80" r="1.15" fill="#2a2a2a"/>
<circle cx="433.80" cy="159.80" r="1.15" fill="#2a2a2a"/>
<circle cx="437.20" cy="159.80" r="1.15" fill="#2a2a2a"/>
<line x1="442.50" y1="174.35" x2="442.50" y2="153.32" stroke="#505050" stroke-width="0.7"/>
<line x1="440.90" y1="153.32" x2="444.10" y2="153.32" stroke="#505050" stroke-width="0.7"/>
<rect x="439.85" y="174.35" width="5.60" height="33.95" fill="#10694f"/>
<line x1="442.65" y1="208.30" x2="442.65" y2="210.50" stroke="#151515" stroke-width="0.8"/>
<text x="445.25" y="216.30" font-size="7.4" stroke="#333" stroke-width="0.15" text-anchor="end" transform="rotate(-90 445.25 216.30)">1000</text>
<circle cx="440.95" cy="147.80" r="1.15" fill="#2a2a2a"/>
<circle cx="444.35" cy="147.80" r="1.15" fill="#2a2a2a"/>
<text x="394.50" y="131.50" font-size="7.8" stroke="#333" stroke-width="0.15" textLength="49.20" lengthAdjust="spacingAndGlyphs">n = 4 cell lines</text>
<text x="364.65" y="245.60" font-size="11" stroke="#333" stroke-width="0.15" text-anchor="middle" textLength="56.00" lengthAdjust="spacingAndGlyphs">YKL-5-124 (nM)</text>
<text x="255.10" y="171.30" font-size="11" stroke="#333" stroke-width="0.15" text-anchor="middle" transform="rotate(-90 255.10 171.30)" textLength="51.20" lengthAdjust="spacingAndGlyphs">p-Rb/RbRation</text>
<text x="8.40" y="277.30" font-size="13.7" font-weight="bold" fill="#0a0a0a" textLength="8.93" lengthAdjust="spacingAndGlyphs">C</text>
<line x1="93.00" y1="309.50" x2="93.00" y2="381.75" stroke="#151515" stroke-width="1.3"/>
<line x1="89.50" y1="381.75" x2="93.00" y2="381.75" stroke="#151515" stroke-width="1.3"/>
<text x="87.60" y="384.77" font-size="8.4" stroke="#333" stroke-width="0.15" text-anchor="end" textLength="4.16" lengthAdjust="spacingAndGlyphs">0</text>
<line x1="89.50" y1="347.38" x2="93.00" y2="347.38" stroke="#151515" stroke-width="1.3"/>
<text x="87.60" y="350.40" font-size="8.4" stroke="#333" stroke-width="0.15" text-anchor="end" textLength="8.31" lengthAdjust="spacingAndGlyphs">50</text>
<line x1="89.50" y1="313.00" x2="93.00" y2="313.00" stroke="#151515" stroke-width="1.3"/>
<text x="87.60" y="316.02" font-size="8.4" stroke="#333" stroke-width="0.15" text-anchor="end" textLength="12.47" lengthAdjust="spacingAndGlyphs">100</text>
<line x1="91.20" y1="374.88" x2="93.00" y2="374.88" stroke="#151515" stroke-width="0.7"/>
<line x1="91.20" y1="368.00" x2="93.00" y2="368.00" stroke="#151515" stroke-width="0.7"/>
<line x1="91.20" y1="361.12" x2="93.00" y2="361.12" stroke="#151515" stroke-width="0.7"/>
<line x1="91.20" y1="354.25" x2="93.00" y2="354.25" stroke="#151515" stroke-width="0.7"/>
<line x1="91.20" y1="340.50" x2="93.00" y2="340.50" stroke="#151515" stroke-width="0.7"/>
<line x1="91.20" y1="333.62" x2="93.00" y2="333.62" stroke="#151515" stroke-width="0.7"/>
<line x1="91.20" y1="326.75" x2="93.00" y2="326.75" stroke="#151515" stroke-width="0.7"/>
<line x1="91.20" y1="319.88" x2="93.00" y2="319.88" stroke="#151515" stroke-width="0.7"/>
<line x1="93.00" y1="381.75" x2="150.00" y2="381.75" stroke="#151515" stroke-width="1.3"/>
<rect x="102.00" y="313.00" width="17.50" height="68.75" fill="#cc0a2c"/>
<line x1="132.50" y1="345.31" x2="132.50" y2="342.56" stroke="#505050" stroke-width="0.9"/>
<line x1="128.20" y1="342.56" x2="136.80" y2="342.56" stroke="#505050" stroke-width="0.9"/>
<rect x="123.75" y="345.31" width="18.00" height="36.44" fill="#0f4d8c"/>
<line x1="110.75" y1="381.75" x2="110.75" y2="384.25" stroke="#151515" stroke-width="0.8"/>
<line x1="132.75" y1="381.75" x2="132.75" y2="384.25" stroke="#151515" stroke-width="0.8"/>
<path d="M110.5,310.8 V308 H133.75 V310.8" stroke="#151515" stroke-width="1.0" fill="none"/>
<circle cx="118.90" cy="304.50" r="0.95" fill="#2a2a2a"/>
<circle cx="122.00" cy="304.50" r="0.95" fill="#2a2a2a"/>
<circle cx="125.10" cy="304.50" r="0.95" fill="#2a2a2a"/>
<text x="110.75" y="395.20" font-size="7.4" stroke="#333" stroke-width="0.15" text-anchor="middle">0</text>
<text x="132.60" y="395.20" font-size="7.4" stroke="#333" stroke-width="0.15" text-anchor="middle">50</text>
<text x="121.90" y="407.00" font-size="7.4" stroke="#333" stroke-width="0.15" text-anchor="middle" textLength="51.00" lengthAdjust="spacingAndGlyphs">YK L-5-124 (nM)</text>
<text x="59.90" y="345.55" font-size="7.6" stroke="#333" stroke-width="0.15" text-anchor="middle" transform="rotate(-90 59.90 345.55)" textLength="70.30" lengthAdjust="spacingAndGlyphs">E2F1 reporter activity:</text>
<text x="68.60" y="345.55" font-size="7.6" stroke="#333" stroke-width="0.15" text-anchor="middle" transform="rotate(-90 68.60 345.55)" textLength="58.70" lengthAdjust="spacingAndGlyphs">FC from untreated</text>
<text x="8.70" y="427.90" font-size="13.7" font-weight="bold" fill="#0a0a0a" textLength="9.53" lengthAdjust="spacingAndGlyphs">D</text>
<rect x="104.30" y="435.40" width="23.80" height="10.20" fill="#545454"/>
<text x="116.20" y="443.40" font-size="8.6" stroke="#fff" stroke-width="0.2" text-anchor="middle" font-weight="bold" fill="#fff" textLength="19.50" lengthAdjust="spacingAndGlyphs">H929</text>
<rect x="128.90" y="435.40" width="24.20" height="10.20" fill="#545454"/>
<text x="141.00" y="443.40" font-size="8.6" stroke="#fff" stroke-width="0.2" text-anchor="middle" font-weight="bold" fill="#fff" textLength="22.50" lengthAdjust="spacingAndGlyphs">AMO1</text>
<text x="90.00" y="452.90" font-size="7.7" stroke="#333" stroke-width="0.15" text-anchor="end" textLength="65.70" lengthAdjust="spacingAndGlyphs">YKL-5-124 (250nM)</text>
<text x="90.00" y="459.50" font-size="7.7" stroke="#333" stroke-width="0.15" text-anchor="end" textLength="24.60" lengthAdjust="spacingAndGlyphs">Protein</text>
<text x="90.00" y="466.60" font-size="7.7" stroke="#333" stroke-width="0.15" text-anchor="end" textLength="40.00" lengthAdjust="spacingAndGlyphs">Probe (E2F)</text>
<text x="90.00" y="473.40" font-size="7.7" stroke="#333" stroke-width="0.15" text-anchor="end" textLength="41.50" lengthAdjust="spacingAndGlyphs">Probe (cold)</text>
<line x1="96.70" y1="451.60" x2="100.50" y2="451.60" stroke="#555" stroke-width="1.1"/>
<line x1="104.00" y1="451.60" x2="107.80" y2="451.60" stroke="#555" stroke-width="1.1"/>
<line x1="111.10" y1="451.60" x2="114.90" y2="451.60" stroke="#555" stroke-width="1.1"/>
<line x1="118.60" y1="451.60" x2="122.40" y2="451.60" stroke="#555" stroke-width="1.1"/>
<line x1="125.40" y1="451.60" x2="129.00" y2="451.60" stroke="#444" stroke-width="1.0"/>
<line x1="127.20" y1="449.80" x2="127.20" y2="453.40" stroke="#444" stroke-width="1.0"/>
<line x1="134.00" y1="451.60" x2="137.80" y2="451.60" stroke="#555" stroke-width="1.1"/>
<line x1="140.50" y1="451.60" x2="144.30" y2="451.60" stroke="#555" stroke-width="1.1"/>
<line x1="147.90" y1="451.60" x2="151.50" y2="451.60" stroke="#444" stroke-width="1.0"/>
<line x1="149.70" y1="449.80" x2="149.70" y2="453.40" stroke="#444" stroke-width="1.0"/>
<line x1="96.80" y1="457.70" x2="100.40" y2="457.70" stroke="#444" stroke-width="1.0"/>
<line x1="98.60" y1="455.90" x2="98.60" y2="459.50" stroke="#444" stroke-width="1.0"/>
<line x1="104.00" y1="457.70" x2="107.80" y2="457.70" stroke="#555" stroke-width="1.1"/>
<line x1="111.20" y1="457.70" x2="114.80" y2="457.70" stroke="#444" stroke-width="1.0"/>
<line x1="113.00" y1="455.90" x2="113.00" y2="459.50" stroke="#444" stroke-width="1.0"/>
<line x1="118.70" y1="457.70" x2="122.30" y2="457.70" stroke="#444" stroke-width="1.0"/>
<line x1="120.50" y1="455.90" x2="120.50" y2="459.50" stroke="#444" stroke-width="1.0"/>
<line x1="125.40" y1="457.70" x2="129.00" y2="457.70" stroke="#444" stroke-width="1.0"/>
<line x1="127.20" y1="455.90" x2="127.20" y2="459.50" stroke="#444" stroke-width="1.0"/>
<line x1="134.10" y1="457.70" x2="137.70" y2="457.70" stroke="#444" stroke-width="1.0"/>
<line x1="135.90" y1="455.90" x2="135.90" y2="459.50" stroke="#444" stroke-width="1.0"/>
<line x1="140.60" y1="457.70" x2="144.20" y2="457.70" stroke="#444" stroke-width="1.0"/>
<line x1="142.40" y1="455.90" x2="142.40" y2="459.50" stroke="#444" stroke-width="1.0"/>
<line x1="147.90" y1="457.70" x2="151.50" y2="457.70" stroke="#444" stroke-width="1.0"/>
<line x1="149.70" y1="455.90" x2="149.70" y2="459.50" stroke="#444" stroke-width="1.0"/>
<line x1="96.70" y1="464.90" x2="100.50" y2="464.90" stroke="#555" stroke-width="1.1"/>
<line x1="104.00" y1="464.90" x2="107.80" y2="464.90" stroke="#555" stroke-width="1.1"/>
<line x1="111.20" y1="464.90" x2="114.80" y2="464.90" stroke="#444" stroke-width="1.0"/>
<line x1="113.00" y1="463.10" x2="113.00" y2="466.70" stroke="#444" stroke-width="1.0"/>
<line x1="118.70" y1="464.90" x2="122.30" y2="464.90" stroke="#444" stroke-width="1.0"/>
<line x1="120.50" y1="463.10" x2="120.50" y2="466.70" stroke="#444" stroke-width="1.0"/>
<line x1="125.40" y1="464.90" x2="129.00" y2="464.90" stroke="#444" stroke-width="1.0"/>
<line x1="127.20" y1="463.10" x2="127.20" y2="466.70" stroke="#444" stroke-width="1.0"/>
<line x1="134.10" y1="464.90" x2="137.70" y2="464.90" stroke="#444" stroke-width="1.0"/>
<line x1="135.90" y1="463.10" x2="135.90" y2="466.70" stroke="#444" stroke-width="1.0"/>
<line x1="140.60" y1="464.90" x2="144.20" y2="464.90" stroke="#444" stroke-width="1.0"/>
<line x1="142.40" y1="463.10" x2="142.40" y2="466.70" stroke="#444" stroke-width="1.0"/>
<line x1="147.90" y1="464.90" x2="151.50" y2="464.90" stroke="#444" stroke-width="1.0"/>
<line x1="149.70" y1="463.10" x2="149.70" y2="466.70" stroke="#444" stroke-width="1.0"/>
<line x1="96.70" y1="471.00" x2="100.50" y2="471.00" stroke="#555" stroke-width="1.1"/>
<line x1="104.10" y1="471.00" x2="107.70" y2="471.00" stroke="#444" stroke-width="1.0"/>
<line x1="105.90" y1="469.20" x2="105.90" y2="472.80" stroke="#444" stroke-width="1.0"/>
<line x1="111.20" y1="471.00" x2="114.80" y2="471.00" stroke="#444" stroke-width="1.0"/>
<line x1="113.00" y1="469.20" x2="113.00" y2="472.80" stroke="#444" stroke-width="1.0"/>
<line x1="118.60" y1="471.00" x2="122.40" y2="471.00" stroke="#555" stroke-width="1.1"/>
<line x1="125.30" y1="471.00" x2="129.10" y2="471.00" stroke="#555" stroke-width="1.1"/>
<line x1="134.10" y1="471.00" x2="137.70" y2="471.00" stroke="#444" stroke-width="1.0"/>
<line x1="135.90" y1="469.20" x2="135.90" y2="472.80" stroke="#444" stroke-width="1.0"/>
<line x1="140.50" y1="471.00" x2="144.30" y2="471.00" stroke="#555" stroke-width="1.1"/>
<line x1="147.80" y1="471.00" x2="151.60" y2="471.00" stroke="#555" stroke-width="1.1"/>
<rect x="93.50" y="475.50" width="60.80" height="67.70" fill="#f2f2f2" stroke="#555" stroke-width="0.9"/>
<text x="89.60" y="492.30" font-size="7.6" stroke="#333" stroke-width="0.15" text-anchor="end">E2F1</text>
<text x="89.60" y="539.80" font-size="7.6" stroke="#333" stroke-width="0.15" text-anchor="end">Free Probe</text>
<path d="M117.4,489 L118.9,489.6 L121.9,489.6 L123.4,489 L123.4,492.2 L117.4,492.2 Z" fill="#111" filter="url(#bl)"/>
<path d="M140.0,489 L141.5,489.6 L144.5,489.6 L146.0,489 L146.0,492.2 L140.0,492.2 Z" fill="#111" filter="url(#bl)"/>
<rect x="125.2" y="489.6" width="1.2" height="2.4" fill="#aaa" filter="url(#bl)"/>
<rect x="129.8" y="489.6" width="1.2" height="2.4" fill="#aaa" filter="url(#bl)"/>
<rect x="125.2" y="490.6" width="6" height="1.2" fill="#ccc" filter="url(#bl)"/>
<rect x="147.2" y="489.6" width="1.3" height="2.6" fill="#777" filter="url(#bl)"/>
<rect x="150.3" y="489.6" width="1.3" height="2.6" fill="#999" filter="url(#bl)"/>
<rect x="147.8" y="477" width="3.8" height="13" fill="#ddd" filter="url(#bl)"/>
<circle cx="118.5" cy="478.9" r="0.95" fill="#555"/>
<circle cx="122.5" cy="478.9" r="0.95" fill="#555"/>
<circle cx="126.5" cy="478.9" r="0.95" fill="#555"/>
<circle cx="130.5" cy="478.9" r="0.95" fill="#555"/>
<line x1="128.80" y1="505.70" x2="128.80" y2="499.00" stroke="#3a5a90" stroke-width="0.9"/>
<path d="M127.20000000000002,500.6 L128.8,496.8 L130.4,500.6 Z" stroke="none" stroke-width="0" fill="#1f3f7a"/>
<line x1="150.40" y1="505.70" x2="150.40" y2="499.00" stroke="#3a5a90" stroke-width="0.9"/>
<path d="M148.8,500.6 L150.4,496.8 L152.0,500.6 Z" stroke="none" stroke-width="0" fill="#1f3f7a"/>
<path d="M101.5,541.3 L101.5,538.8 Q103.00,538.20 104.50,536.80 Q107.15,538.20 109.80,534.80 Q112.95,538.20 116.10,534.80 Q119.60,538.20 123.10,534.80 Q126.60,538.20 130.10,534.80 Q132.95,538.20 135.80,534.80 Q139.30,538.20 142.80,534.80 Q145.30,538.20 147.80,534.80 Q150.05,538.20 152.30,534.80 Q153.3,535.5 153.5,537 L153.5,541.3 Z" fill="#140a0a" filter="url(#bl)"/>
<path d="M103,540.6 C110,539.8 120,541 130,539.8 C140,539.6 150,540.6 153,540" stroke="#8a2a20" stroke-width="0.7" fill="none" opacity="0.5"/>
<text x="173.70" y="277.30" font-size="13.7" font-weight="bold" fill="#0a0a0a" textLength="6.87" lengthAdjust="spacingAndGlyphs">E</text>
<rect x="217.90" y="301.10" width="127.10" height="8.80" fill="#545454"/>
<text x="281.45" y="308.32" font-size="8.4" stroke="#fff" stroke-width="0.2" text-anchor="middle" font-weight="bold" fill="#fff" textLength="22.50" lengthAdjust="spacingAndGlyphs">AMO1</text>
<line x1="217.50" y1="317.00" x2="217.50" y2="381.40" stroke="#151515" stroke-width="1.3"/>
<line x1="214.00" y1="381.40" x2="217.50" y2="381.40" stroke="#151515" stroke-width="1.3"/>
<text x="209.90" y="384.35" font-size="8.2" stroke="#333" stroke-width="0.15" text-anchor="end" textLength="9.35" lengthAdjust="spacingAndGlyphs">0.0</text>
<line x1="214.00" y1="361.30" x2="217.50" y2="361.30" stroke="#151515" stroke-width="1.3"/>
<text x="209.90" y="364.25" font-size="8.2" stroke="#333" stroke-width="0.15" text-anchor="end" textLength="9.35" lengthAdjust="spacingAndGlyphs">0.5</text>
<line x1="214.00" y1="341.20" x2="217.50" y2="341.20" stroke="#151515" stroke-width="1.3"/>
<text x="209.90" y="344.15" font-size="8.2" stroke="#333" stroke-width="0.15" text-anchor="end" textLength="9.35" lengthAdjust="spacingAndGlyphs">1.0</text>
<line x1="214.00" y1="321.10" x2="217.50" y2="321.10" stroke="#151515" stroke-width="1.3"/>
<text x="209.90" y="324.05" font-size="8.2" stroke="#333" stroke-width="0.15" text-anchor="end" textLength="9.35" lengthAdjust="spacingAndGlyphs">1.5</text>
<line x1="215.90" y1="377.38" x2="217.50" y2="377.38" stroke="#151515" stroke-width="0.7"/>
<line x1="215.90" y1="373.36" x2="217.50" y2="373.36" stroke="#151515" stroke-width="0.7"/>
<line x1="215.90" y1="369.34" x2="217.50" y2="369.34" stroke="#151515" stroke-width="0.7"/>
<line x1="215.90" y1="365.32" x2="217.50" y2="365.32" stroke="#151515" stroke-width="0.7"/>
<line x1="215.90" y1="357.28" x2="217.50" y2="357.28" stroke="#151515" stroke-width="0.7"/>
<line x1="215.90" y1="353.26" x2="217.50" y2="353.26" stroke="#151515" stroke-width="0.7"/>
<line x1="215.90" y1="349.24" x2="217.50" y2="349.24" stroke="#151515" stroke-width="0.7"/>
<line x1="215.90" y1="345.22" x2="217.50" y2="345.22" stroke="#151515" stroke-width="0.7"/>
<line x1="215.90" y1="337.18" x2="217.50" y2="337.18" stroke="#151515" stroke-width="0.7"/>
<line x1="215.90" y1="333.16" x2="217.50" y2="333.16" stroke="#151515" stroke-width="0.7"/>
<line x1="215.90" y1="329.14" x2="217.50" y2="329.14" stroke="#151515" stroke-width="0.7"/>
<line x1="215.90" y1="325.12" x2="217.50" y2="325.12" stroke="#151515" stroke-width="0.7"/>
<line x1="217.50" y1="381.40" x2="345.00" y2="381.40" stroke="#151515" stroke-width="1.3"/>
<line x1="223.50" y1="363.71" x2="223.50" y2="362.51" stroke="#505050" stroke-width="0.9"/>
<line x1="221.70" y1="362.51" x2="225.30" y2="362.51" stroke="#505050" stroke-width="0.9"/>
<rect x="220.40" y="363.71" width="6.60" height="17.69" fill="#cc0a2c"/>
<line x1="231.50" y1="379.39" x2="231.50" y2="378.59" stroke="#505050" stroke-width="0.9"/>
<line x1="229.70" y1="378.59" x2="233.30" y2="378.59" stroke="#505050" stroke-width="0.9"/>
<rect x="228.20" y="379.39" width="6.10" height="2.01" fill="#0f4d8c"/>
<line x1="227.60" y1="381.40" x2="227.60" y2="383.60" stroke="#151515" stroke-width="0.8"/>
<path d="M223.70,350.50 V348.30 H231.30 V350.50" stroke="#151515" stroke-width="1.0" fill="none"/>
<circle cx="222.65" cy="344.60" r="1.1" fill="#2a2a2a"/>
<circle cx="225.95" cy="344.60" r="1.1" fill="#2a2a2a"/>
<circle cx="229.25" cy="344.60" r="1.1" fill="#2a2a2a"/>
<circle cx="232.55" cy="344.60" r="1.1" fill="#2a2a2a"/>
<line x1="241.50" y1="363.71" x2="241.50" y2="357.28" stroke="#505050" stroke-width="0.9"/>
<line x1="239.70" y1="357.28" x2="243.30" y2="357.28" stroke="#505050" stroke-width="0.9"/>
<rect x="238.40" y="363.71" width="6.60" height="17.69" fill="#cc0a2c"/>
<line x1="249.50" y1="376.58" x2="249.50" y2="375.77" stroke="#505050" stroke-width="0.9"/>
<line x1="247.70" y1="375.77" x2="251.30" y2="375.77" stroke="#505050" stroke-width="0.9"/>
<rect x="246.20" y="376.58" width="6.10" height="4.82" fill="#0f4d8c"/>
<line x1="245.60" y1="381.40" x2="245.60" y2="383.60" stroke="#151515" stroke-width="0.8"/>
<path d="M241.70,350.50 V348.30 H249.30 V350.50" stroke="#151515" stroke-width="1.0" fill="none"/>
<circle cx="240.65" cy="344.60" r="1.1" fill="#2a2a2a"/>
<circle cx="243.95" cy="344.60" r="1.1" fill="#2a2a2a"/>
<circle cx="247.25" cy="344.60" r="1.1" fill="#2a2a2a"/>
<circle cx="250.55" cy="344.60" r="1.1" fill="#2a2a2a"/>
<line x1="259.50" y1="331.55" x2="259.50" y2="328.34" stroke="#505050" stroke-width="0.9"/>
<line x1="257.70" y1="328.34" x2="261.30" y2="328.34" stroke="#505050" stroke-width="0.9"/>
<rect x="256.40" y="331.55" width="6.60" height="49.85" fill="#cc0a2c"/>
<line x1="267.50" y1="375.37" x2="267.50" y2="374.57" stroke="#505050" stroke-width="0.9"/>
<line x1="265.70" y1="374.57" x2="269.30" y2="374.57" stroke="#505050" stroke-width="0.9"/>
<rect x="264.20" y="375.37" width="6.10" height="6.03" fill="#0f4d8c"/>
<line x1="263.60" y1="381.40" x2="263.60" y2="383.60" stroke="#151515" stroke-width="0.8"/>
<path d="M259.70,327.00 V324.80 H267.30 V327.00" stroke="#151515" stroke-width="1.0" fill="none"/>
<circle cx="258.65" cy="321.10" r="1.1" fill="#2a2a2a"/>
<circle cx="261.95" cy="321.10" r="1.1" fill="#2a2a2a"/>
<circle cx="265.25" cy="321.10" r="1.1" fill="#2a2a2a"/>
<circle cx="268.55" cy="321.10" r="1.1" fill="#2a2a2a"/>
<line x1="277.50" y1="360.50" x2="277.50" y2="356.48" stroke="#505050" stroke-width="0.9"/>
<line x1="275.70" y1="356.48" x2="279.30" y2="356.48" stroke="#505050" stroke-width="0.9"/>
<rect x="274.40" y="360.50" width="6.60" height="20.90" fill="#cc0a2c"/>
<line x1="285.50" y1="379.79" x2="285.50" y2="379.39" stroke="#505050" stroke-width="0.9"/>
<line x1="283.70" y1="379.39" x2="287.30" y2="379.39" stroke="#505050" stroke-width="0.9"/>
<rect x="282.20" y="379.79" width="6.10" height="1.61" fill="#0f4d8c"/>
<line x1="281.60" y1="381.40" x2="281.60" y2="383.60" stroke="#151515" stroke-width="0.8"/>
<path d="M277.70,344.60 V342.40 H285.30 V344.60" stroke="#151515" stroke-width="1.0" fill="none"/>
<circle cx="276.65" cy="338.70" r="1.1" fill="#2a2a2a"/>
<circle cx="279.95" cy="338.70" r="1.1" fill="#2a2a2a"/>
<circle cx="283.25" cy="338.70" r="1.1" fill="#2a2a2a"/>
<circle cx="286.55" cy="338.70" r="1.1" fill="#2a2a2a"/>
<line x1="295.50" y1="358.89" x2="295.50" y2="355.67" stroke="#505050" stroke-width="0.9"/>
<line x1="293.70" y1="355.67" x2="297.30" y2="355.67" stroke="#505050" stroke-width="0.9"/>
<rect x="292.40" y="358.89" width="6.60" height="22.51" fill="#cc0a2c"/>
<line x1="303.50" y1="379.39" x2="303.50" y2="378.18" stroke="#505050" stroke-width="0.9"/>
<line x1="301.70" y1="378.18" x2="305.30" y2="378.18" stroke="#505050" stroke-width="0.9"/>
<rect x="300.20" y="379.39" width="6.10" height="2.01" fill="#0f4d8c"/>
<line x1="299.60" y1="381.40" x2="299.60" y2="383.60" stroke="#151515" stroke-width="0.8"/>
<path d="M295.70,344.60 V342.40 H303.30 V344.60" stroke="#151515" stroke-width="1.0" fill="none"/>
<circle cx="294.65" cy="338.70" r="1.1" fill="#2a2a2a"/>
<circle cx="297.95" cy="338.70" r="1.1" fill="#2a2a2a"/>
<circle cx="301.25" cy="338.70" r="1.1" fill="#2a2a2a"/>
<circle cx="304.55" cy="338.70" r="1.1" fill="#2a2a2a"/>
<line x1="313.50" y1="352.05" x2="313.50" y2="348.44" stroke="#505050" stroke-width="0.9"/>
<line x1="311.70" y1="348.44" x2="315.30" y2="348.44" stroke="#505050" stroke-width="0.9"/>
<rect x="310.40" y="352.05" width="6.60" height="29.35" fill="#cc0a2c"/>
<line x1="321.50" y1="372.96" x2="321.50" y2="371.75" stroke="#505050" stroke-width="0.9"/>
<line x1="319.70" y1="371.75" x2="323.30" y2="371.75" stroke="#505050" stroke-width="0.9"/>
<rect x="318.20" y="372.96" width="6.10" height="8.44" fill="#0f4d8c"/>
<line x1="317.60" y1="381.40" x2="317.60" y2="383.60" stroke="#151515" stroke-width="0.8"/>
<path d="M313.70,344.60 V342.40 H321.30 V344.60" stroke="#151515" stroke-width="1.0" fill="none"/>
<circle cx="312.65" cy="338.70" r="1.1" fill="#2a2a2a"/>
<circle cx="315.95" cy="338.70" r="1.1" fill="#2a2a2a"/>
<circle cx="319.25" cy="338.70" r="1.1" fill="#2a2a2a"/>
<circle cx="322.55" cy="338.70" r="1.1" fill="#2a2a2a"/>
<line x1="331.50" y1="379.39" x2="331.50" y2="378.99" stroke="#505050" stroke-width="0.9"/>
<line x1="329.70" y1="378.99" x2="333.30" y2="378.99" stroke="#505050" stroke-width="0.9"/>
<rect x="328.40" y="379.39" width="6.60" height="2.01" fill="#cc0a2c"/>
<line x1="339.50" y1="378.18" x2="339.50" y2="377.38" stroke="#505050" stroke-width="0.9"/>
<line x1="337.70" y1="377.38" x2="341.30" y2="377.38" stroke="#505050" stroke-width="0.9"/>
<rect x="336.20" y="378.18" width="6.10" height="3.22" fill="#0f4d8c"/>
<line x1="335.60" y1="381.40" x2="335.60" y2="383.60" stroke="#151515" stroke-width="0.8"/>
<path d="M331.70,371.60 V369.40 H339.30 V371.60" stroke="#151515" stroke-width="1.0" fill="none"/>
<text x="335.60" y="367.80" font-size="7.5" stroke="#333" stroke-width="0.15" text-anchor="middle">ns</text>
<rect x="276.30" y="316.70" width="8.70" height="4.30" fill="#cc0a2c"/>
<text x="289.20" y="321.40" font-size="8" stroke="#333" stroke-width="0.15" textLength="24.50" lengthAdjust="spacingAndGlyphs">Vehicle</text>
<rect x="276.30" y="327.30" width="8.70" height="3.90" fill="#0f4d8c"/>
<text x="289.20" y="331.80" font-size="8" stroke="#333" stroke-width="0.15" textLength="35.20" lengthAdjust="spacingAndGlyphs">YKL-5-124</text>
<text x="193.30" y="348.75" font-size="10" stroke="#333" stroke-width="0.15" text-anchor="middle" transform="rotate(-90 193.30 348.75)" textLength="67.70" lengthAdjust="spacingAndGlyphs">E2F1 ChIP: % input</text>
<rect x="217.90" y="407.80" width="127.10" height="8.40" fill="#545454"/>
<text x="281.45" y="414.82" font-size="8.4" stroke="#fff" stroke-width="0.2" text-anchor="middle" font-weight="bold" fill="#fff" textLength="19.50" lengthAdjust="spacingAndGlyphs">H929</text>
<line x1="217.50" y1="426.00" x2="217.50" y2="493.50" stroke="#151515" stroke-width="1.3"/>
<line x1="214.00" y1="493.50" x2="217.50" y2="493.50" stroke="#151515" stroke-width="1.3"/>
<text x="210.40" y="496.45" font-size="8.2" stroke="#333" stroke-width="0.15" text-anchor="end" textLength="9.35" lengthAdjust="spacingAndGlyphs">0.0</text>
<line x1="214.00" y1="461.38" x2="217.50" y2="461.38" stroke="#151515" stroke-width="1.3"/>
<text x="210.40" y="464.33" font-size="8.2" stroke="#333" stroke-width="0.15" text-anchor="end" textLength="9.35" lengthAdjust="spacingAndGlyphs">0.4</text>
<line x1="214.00" y1="429.26" x2="217.50" y2="429.26" stroke="#151515" stroke-width="1.3"/>
<text x="210.40" y="432.21" font-size="8.2" stroke="#333" stroke-width="0.15" text-anchor="end" textLength="9.35" lengthAdjust="spacingAndGlyphs">0.8</text>
<line x1="215.90" y1="487.08" x2="217.50" y2="487.08" stroke="#151515" stroke-width="0.7"/>
<line x1="215.90" y1="480.65" x2="217.50" y2="480.65" stroke="#151515" stroke-width="0.7"/>
<line x1="215.90" y1="474.23" x2="217.50" y2="474.23" stroke="#151515" stroke-width="0.7"/>
<line x1="215.90" y1="467.80" x2="217.50" y2="467.80" stroke="#151515" stroke-width="0.7"/>
<line x1="215.90" y1="454.96" x2="217.50" y2="454.96" stroke="#151515" stroke-width="0.7"/>
<line x1="215.90" y1="448.53" x2="217.50" y2="448.53" stroke="#151515" stroke-width="0.7"/>
<line x1="215.90" y1="442.11" x2="217.50" y2="442.11" stroke="#151515" stroke-width="0.7"/>
<line x1="215.90" y1="435.68" x2="217.50" y2="435.68" stroke="#151515" stroke-width="0.7"/>
<line x1="217.50" y1="493.50" x2="345.00" y2="493.50" stroke="#151515" stroke-width="1.3"/>
<line x1="223.50" y1="467.00" x2="223.50" y2="465.39" stroke="#505050" stroke-width="0.9"/>
<line x1="221.70" y1="465.39" x2="225.30" y2="465.39" stroke="#505050" stroke-width="0.9"/>
<rect x="220.80" y="467.00" width="6.30" height="26.50" fill="#cc0a2c"/>
<line x1="231.50" y1="487.88" x2="231.50" y2="487.08" stroke="#505050" stroke-width="0.9"/>
<line x1="229.70" y1="487.08" x2="233.30" y2="487.08" stroke="#505050" stroke-width="0.9"/>
<rect x="228.10" y="487.88" width="6.00" height="5.62" fill="#0f4d8c"/>
<line x1="227.60" y1="493.50" x2="227.60" y2="495.70" stroke="#151515" stroke-width="0.8"/>
<path d="M224.00,457.00 V454.80 H231.10 V457.00" stroke="#151515" stroke-width="1.0" fill="none"/>
<circle cx="222.65" cy="450.80" r="1.1" fill="#2a2a2a"/>
<circle cx="225.95" cy="450.80" r="1.1" fill="#2a2a2a"/>
<circle cx="229.25" cy="450.80" r="1.1" fill="#2a2a2a"/>
<circle cx="232.55" cy="450.80" r="1.1" fill="#2a2a2a"/>
<text x="230.20" y="501.60" font-size="8.2" stroke="#333" stroke-width="0.15" text-anchor="end" transform="rotate(-90 230.20 501.60)" textLength="20.80" lengthAdjust="spacingAndGlyphs">MDC1</text>
<line x1="241.50" y1="479.85" x2="241.50" y2="479.05" stroke="#505050" stroke-width="0.9"/>
<line x1="239.70" y1="479.05" x2="243.30" y2="479.05" stroke="#505050" stroke-width="0.9"/>
<rect x="238.80" y="479.85" width="6.30" height="13.65" fill="#cc0a2c"/>
<line x1="249.50" y1="485.47" x2="249.50" y2="481.45" stroke="#505050" stroke-width="0.9"/>
<line x1="247.70" y1="481.45" x2="251.30" y2="481.45" stroke="#505050" stroke-width="0.9"/>
<rect x="246.10" y="485.47" width="6.00" height="8.03" fill="#0f4d8c"/>
<line x1="245.60" y1="493.50" x2="245.60" y2="495.70" stroke="#151515" stroke-width="0.8"/>
<path d="M242.00,457.00 V454.80 H249.10 V457.00" stroke="#151515" stroke-width="1.0" fill="none"/>
<text x="245.60" y="452.90" font-size="7.5" stroke="#333" stroke-width="0.15" text-anchor="middle">ns</text>
<text x="248.20" y="501.60" font-size="8.2" stroke="#333" stroke-width="0.15" text-anchor="end" transform="rotate(-90 248.20 501.60)" textLength="21.00" lengthAdjust="spacingAndGlyphs">SRSF2</text>
<line x1="259.50" y1="458.17" x2="259.50" y2="451.74" stroke="#505050" stroke-width="0.9"/>
<line x1="257.70" y1="451.74" x2="261.30" y2="451.74" stroke="#505050" stroke-width="0.9"/>
<rect x="256.80" y="458.17" width="6.30" height="35.33" fill="#cc0a2c"/>
<line x1="267.50" y1="488.68" x2="267.50" y2="486.27" stroke="#505050" stroke-width="0.9"/>
<line x1="265.70" y1="486.27" x2="269.30" y2="486.27" stroke="#505050" stroke-width="0.9"/>
<rect x="264.10" y="488.68" width="6.00" height="4.82" fill="#0f4d8c"/>
<line x1="263.60" y1="493.50" x2="263.60" y2="495.70" stroke="#151515" stroke-width="0.8"/>
<path d="M260.00,448.00 V445.80 H267.10 V448.00" stroke="#151515" stroke-width="1.0" fill="none"/>
<circle cx="258.65" cy="441.80" r="1.1" fill="#2a2a2a"/>
<circle cx="261.95" cy="441.80" r="1.1" fill="#2a2a2a"/>
<circle cx="265.25" cy="441.80" r="1.1" fill="#2a2a2a"/>
<circle cx="268.55" cy="441.80" r="1.1" fill="#2a2a2a"/>
<text x="266.20" y="501.60" font-size="8.2" stroke="#333" stroke-width="0.15" text-anchor="end" transform="rotate(-90 266.20 501.60)" textLength="17.80" lengthAdjust="spacingAndGlyphs">EZH2</text>
<line x1="277.50" y1="481.05" x2="277.50" y2="475.03" stroke="#505050" stroke-width="0.9"/>
<line x1="275.70" y1="475.03" x2="279.30" y2="475.03" stroke="#505050" stroke-width="0.9"/>
<rect x="274.80" y="481.05" width="6.30" height="12.45" fill="#cc0a2c"/>
<line x1="285.50" y1="487.88" x2="285.50" y2="485.47" stroke="#505050" stroke-width="0.9"/>
<line x1="283.70" y1="485.47" x2="287.30" y2="485.47" stroke="#505050" stroke-width="0.9"/>
<rect x="282.10" y="487.88" width="6.00" height="5.62" fill="#0f4d8c"/>
<line x1="281.60" y1="493.50" x2="281.60" y2="495.70" stroke="#151515" stroke-width="0.8"/>
<path d="M278.00,464.10 V461.90 H285.10 V464.10" stroke="#151515" stroke-width="1.0" fill="none"/>
<circle cx="281.60" cy="457.90" r="1.1" fill="#2a2a2a"/>
<text x="284.20" y="501.60" font-size="8.2" stroke="#333" stroke-width="0.15" text-anchor="end" transform="rotate(-90 284.20 501.60)" textLength="21.00" lengthAdjust="spacingAndGlyphs">SMC4</text>
<line x1="295.50" y1="479.05" x2="295.50" y2="475.83" stroke="#505050" stroke-width="0.9"/>
<line x1="293.70" y1="475.83" x2="297.30" y2="475.83" stroke="#505050" stroke-width="0.9"/>
<rect x="292.80" y="479.05" width="6.30" height="14.45" fill="#cc0a2c"/>
<line x1="303.50" y1="489.49" x2="303.50" y2="488.68" stroke="#505050" stroke-width="0.9"/>
<line x1="301.70" y1="488.68" x2="305.30" y2="488.68" stroke="#505050" stroke-width="0.9"/>
<rect x="300.10" y="489.49" width="6.00" height="4.01" fill="#0f4d8c"/>
<line x1="299.60" y1="493.50" x2="299.60" y2="495.70" stroke="#151515" stroke-width="0.8"/>
<path d="M296.00,464.10 V461.90 H303.10 V464.10" stroke="#151515" stroke-width="1.0" fill="none"/>
<circle cx="296.30" cy="457.90" r="1.1" fill="#2a2a2a"/>
<circle cx="299.60" cy="457.90" r="1.1" fill="#2a2a2a"/>
<circle cx="302.90" cy="457.90" r="1.1" fill="#2a2a2a"/>
<text x="302.20" y="501.60" font-size="8.2" stroke="#333" stroke-width="0.15" text-anchor="end" transform="rotate(-90 302.20 501.60)" textLength="22.50" lengthAdjust="spacingAndGlyphs">UBE2T</text>
<line x1="313.50" y1="454.55" x2="313.50" y2="454.15" stroke="#505050" stroke-width="0.9"/>
<line x1="311.70" y1="454.15" x2="315.30" y2="454.15" stroke="#505050" stroke-width="0.9"/>
<rect x="310.80" y="454.55" width="6.30" height="38.95" fill="#cc0a2c"/>
<line x1="321.50" y1="479.85" x2="321.50" y2="479.05" stroke="#505050" stroke-width="0.9"/>
<line x1="319.70" y1="479.05" x2="323.30" y2="479.05" stroke="#505050" stroke-width="0.9"/>
<rect x="318.10" y="479.85" width="6.00" height="13.65" fill="#0f4d8c"/>
<line x1="317.60" y1="493.50" x2="317.60" y2="495.70" stroke="#151515" stroke-width="0.8"/>
<path d="M314.00,446.10 V443.90 H321.10 V446.10" stroke="#151515" stroke-width="1.0" fill="none"/>
<circle cx="312.65" cy="439.90" r="1.1" fill="#2a2a2a"/>
<circle cx="315.95" cy="439.90" r="1.1" fill="#2a2a2a"/>
<circle cx="319.25" cy="439.90" r="1.1" fill="#2a2a2a"/>
<circle cx="322.55" cy="439.90" r="1.1" fill="#2a2a2a"/>
<text x="320.20" y="501.60" font-size="8.2" stroke="#333" stroke-width="0.15" text-anchor="end" transform="rotate(-90 320.20 501.60)" textLength="21.50" lengthAdjust="spacingAndGlyphs">SRSF1</text>
<line x1="331.50" y1="492.70" x2="331.50" y2="492.30" stroke="#505050" stroke-width="0.9"/>
<line x1="329.70" y1="492.30" x2="333.30" y2="492.30" stroke="#505050" stroke-width="0.9"/>
<rect x="328.80" y="492.70" width="6.30" height="0.80" fill="#cc0a2c"/>
<line x1="339.50" y1="491.89" x2="339.50" y2="491.49" stroke="#505050" stroke-width="0.9"/>
<line x1="337.70" y1="491.49" x2="341.30" y2="491.49" stroke="#505050" stroke-width="0.9"/>
<rect x="336.10" y="491.89" width="6.00" height="1.61" fill="#0f4d8c"/>
<line x1="335.60" y1="493.50" x2="335.60" y2="495.70" stroke="#151515" stroke-width="0.8"/>
<path d="M332.00,486.10 V483.90 H339.10 V486.10" stroke="#151515" stroke-width="1.0" fill="none"/>
<text x="335.60" y="482.00" font-size="7.5" stroke="#333" stroke-width="0.15" text-anchor="middle">ns</text>
<text x="338.20" y="501.60" font-size="8.2" stroke="#333" stroke-width="0.15" text-anchor="end" transform="rotate(-90 338.20 501.60)" textLength="15.00" lengthAdjust="spacingAndGlyphs">NEG</text>
<text x="194.20" y="458.65" font-size="10" stroke="#333" stroke-width="0.15" text-anchor="middle" transform="rotate(-90 194.20 458.65)" textLength="68.50" lengthAdjust="spacingAndGlyphs">E2F1 ChIP: % input</text>
<text x="365.40" y="277.60" font-size="13.7" font-weight="bold" fill="#0a0a0a" textLength="6.91" lengthAdjust="spacingAndGlyphs">F</text>
<text x="421.50" y="291.30" font-size="7.8" stroke="#333" stroke-width="0.15" textLength="74.50" lengthAdjust="spacingAndGlyphs">R = 0.65, p &lt; 2.2e−16</text>
<line x1="415.40" y1="297.70" x2="415.40" y2="381.50" stroke="#151515" stroke-width="1.3"/>
<line x1="411.90" y1="379.10" x2="415.40" y2="379.10" stroke="#151515" stroke-width="1.3"/>
<text x="408.30" y="381.80" font-size="7.5" stroke="#333" stroke-width="0.15" text-anchor="end" textLength="4.17" lengthAdjust="spacingAndGlyphs">0</text>
<line x1="411.90" y1="359.60" x2="415.40" y2="359.60" stroke="#151515" stroke-width="1.3"/>
<text x="408.30" y="362.30" font-size="7.5" stroke="#333" stroke-width="0.15" text-anchor="end" textLength="16.68" lengthAdjust="spacingAndGlyphs">1000</text>
<line x1="411.90" y1="340.10" x2="415.40" y2="340.10" stroke="#151515" stroke-width="1.3"/>
<text x="408.30" y="342.80" font-size="7.5" stroke="#333" stroke-width="0.15" text-anchor="end" textLength="16.68" lengthAdjust="spacingAndGlyphs">2000</text>
<line x1="411.90" y1="320.60" x2="415.40" y2="320.60" stroke="#151515" stroke-width="1.3"/>
<text x="408.30" y="323.30" font-size="7.5" stroke="#333" stroke-width="0.15" text-anchor="end" textLength="16.68" lengthAdjust="spacingAndGlyphs">3000</text>
<line x1="411.90" y1="301.10" x2="415.40" y2="301.10" stroke="#151515" stroke-width="1.3"/>
<text x="408.30" y="303.80" font-size="7.5" stroke="#333" stroke-width="0.15" text-anchor="end" textLength="16.68" lengthAdjust="spacingAndGlyphs">4000</text>
<line x1="415.40" y1="381.50" x2="510.80" y2="381.50" stroke="#151515" stroke-width="1.3"/>
<line x1="419.80" y1="381.50" x2="419.80" y2="385.30" stroke="#151515" stroke-width="1.0"/>
<text x="419.80" y="396.00" font-size="7.6" stroke="#333" stroke-width="0.15" text-anchor="middle">0</text>
<line x1="449.10" y1="381.50" x2="449.10" y2="385.30" stroke="#151515" stroke-width="1.0"/>
<text x="449.10" y="396.00" font-size="7.6" stroke="#333" stroke-width="0.15" text-anchor="middle">10</text>
<line x1="478.40" y1="381.50" x2="478.40" y2="385.30" stroke="#151515" stroke-width="1.0"/>
<text x="478.40" y="396.00" font-size="7.6" stroke="#333" stroke-width="0.15" text-anchor="middle">20</text>
<line x1="507.70" y1="381.50" x2="507.70" y2="385.30" stroke="#151515" stroke-width="1.0"/>
<text x="507.70" y="396.00" font-size="7.6" stroke="#333" stroke-width="0.15" text-anchor="middle">30</text>
<text x="464.50" y="409.90" font-size="9.8" stroke="#333" stroke-width="0.15" text-anchor="middle" textLength="19.30" lengthAdjust="spacingAndGlyphs">CDK7</text>
<text x="385.40" y="337.80" font-size="10.5" stroke="#333" stroke-width="0.15" text-anchor="middle" transform="rotate(-90 385.40 337.80)" textLength="33.60" lengthAdjust="spacingAndGlyphs">E2F score</text>
<path d="M419.80,358.56 L422.78,356.83 L425.76,355.08 L428.74,353.33 L431.72,351.56 L434.69,349.77 L437.67,347.97 L440.65,346.16 L443.63,344.34 L446.61,342.50 L449.59,340.64 L452.57,338.78 L455.55,336.90 L458.52,335.00 L461.50,333.09 L464.48,331.17 L467.46,329.24 L470.44,327.29 L473.42,325.33 L476.40,323.35 L479.38,321.36 L482.36,319.36 L485.33,317.34 L488.31,315.31 L491.29,313.26 L494.27,311.20 L497.25,309.13 L500.23,307.05 L503.21,304.95 L506.19,302.83 L509.17,300.71 L509.17,311.08 L506.19,312.54 L503.21,314.00 L500.23,315.48 L497.25,316.98 L494.27,318.49 L491.29,320.01 L488.31,321.54 L485.33,323.09 L482.36,324.66 L479.38,326.23 L476.40,327.82 L473.42,329.43 L470.44,331.04 L467.46,332.68 L464.48,334.32 L461.50,335.98 L458.52,337.65 L455.55,339.34 L452.57,341.04 L449.59,342.75 L446.61,344.48 L443.63,346.22 L440.65,347.98 L437.67,349.74 L434.69,351.53 L431.72,353.32 L428.74,355.13 L425.76,356.96 L422.78,358.79 L419.80,360.64 Z" fill="#b9c6e6" opacity="0.8"/>
<rect x="425.58" y="357.31" width="1.3" height="1.3" fill="#1a4878"/>
<rect x="440.93" y="351.52" width="1.3" height="1.3" fill="#1a4878"/>
<rect x="425.22" y="359.90" width="1.3" height="1.3" fill="#1a4878"/>
<rect x="435.54" y="343.06" width="1.3" height="1.3" fill="#1a4878"/>
<rect x="425.61" y="365.99" width="1.3" height="1.3" fill="#1a4878"/>
<rect x="437.73" y="345.77" width="1.3" height="1.3" fill="#1a4878"/>
<rect x="448.44" y="330.68" width="1.3" height="1.3" fill="#1a4878"/>
<rect x="431.06" y="356.67" width="1.3" height="1.3" fill="#1a4878"/>
<rect x="460.17" y="335.48" width="1.3" height="1.3" fill="#1a4878"/>
<rect x="427.33" y="364.26" width="1.3" height="1.3" fill="#1a4878"/>
<rect x="432.43" y="352.82" width="1.3" height="1.3" fill="#1a4878"/>
<rect x="429.57" y="356.47" width="1.3" height="1.3" fill="#1a4878"/>
<rect x="433.79" y="347.79" width="1.3" height="1.3" fill="#1a4878"/>
<rect x="442.18" y="344.11" width="1.3" height="1.3" fill="#1a4878"/>
<rect x="423.86" y="357.28" width="1.3" height="1.3" fill="#1a4878"/>
<rect x="424.92" y="360.67" width="1.3" height="1.3" fill="#1a4878"/>
<rect x="424.75" y="359.93" width="1.3" height="1.3" fill="#1a4878"/>
<rect x="427.36" y="356.65" width="1.3" height="1.3" fill="#1a4878"/>
<rect x="460.17" y="332.29" width="1.3" height="1.3" fill="#1a4878"/>
<rect x="439.17" y="359.49" width="1.3" height="1.3" fill="#1a4878"/>
<rect x="429.90" y="351.71" width="1.3" height="1.3" fill="#1a4878"/>
<rect x="431.12" y="352.44" width="1.3" height="1.3" fill="#1a4878"/>
<rect x="432.49" y="360.61" width="1.3" height="1.3" fill="#1a4878"/>
<rect x="436.33" y="356.95" width="1.3" height="1.3" fill="#1a4878"/>
<rect x="454.42" y="342.26" width="1.3" height="1.3" fill="#1a4878"/>
<rect x="437.52" y="349.72" width="1.3" height="1.3" fill="#1a4878"/>
<rect x="440.42" y="352.64" width="1.3" height="1.3" fill="#1a4878"/>
<rect x="440.97" y="348.07" width="1.3" height="1.3" fill="#1a4878"/>
<rect x="444.39" y="338.27" width="1.3" height="1.3" fill="#1a4878"/>
<rect x="432.77" y="358.90" width="1.3" height="1.3" fill="#1a4878"/>
<rect x="438.37" y="345.23" width="1.3" height="1.3" fill="#1a4878"/>
<rect x="450.23" y="343.71" width="1.3" height="1.3" fill="#1a4878"/>
<rect x="436.24" y="346.85" width="1.3" height="1.3" fill="#1a4878"/>
<rect x="433.87" y="351.17" width="1.3" height="1.3" fill="#1a4878"/>
<rect x="433.08" y="357.45" width="1.3" height="1.3" fill="#1a4878"/>
<rect x="426.36" y="360.79" width="1.3" height="1.3" fill="#1a4878"/>
<rect x="436.59" y="338.75" width="1.3" height="1.3" fill="#1a4878"/>
<rect x="440.71" y="338.00" width="1.3" height="1.3" fill="#1a4878"/>
<rect x="438.47" y="343.25" width="1.3" height="1.3" fill="#1a4878"/>
<rect x="433.09" y="347.92" width="1.3" height="1.3" fill="#1a4878"/>
<rect x="452.57" y="341.48" width="1.3" height="1.3" fill="#1a4878"/>
<rect x="427.75" y="346.35" width="1.3" height="1.3" fill="#1a4878"/>
<rect x="433.56" y="346.04" width="1.3" height="1.3" fill="#1a4878"/>
<rect x="439.52" y="357.74" width="1.3" height="1.3" fill="#1a4878"/>
<rect x="460.17" y="314.10" width="1.3" height="1.3" fill="#1a4878"/>
<rect x="433.04" y="348.10" width="1.3" height="1.3" fill="#1a4878"/>
<rect x="432.66" y="359.68" width="1.3" height="1.3" fill="#1a4878"/>
<rect x="431.00" y="352.53" width="1.3" height="1.3" fill="#1a4878"/>
<rect x="442.42" y="339.35" width="1.3" height="1.3" fill="#1a4878"/>
<rect x="432.17" y="344.89" width="1.3" height="1.3" fill="#1a4878"/>
<rect x="427.44" y="353.32" width="1.3" height="1.3" fill="#1a4878"/>
<rect x="442.38" y="348.52" width="1.3" height="1.3" fill="#1a4878"/>
<rect x="423.86" y="365.00" width="1.3" height="1.3" fill="#1a4878"/>
<rect x="433.50" y="349.23" width="1.3" height="1.3" fill="#1a4878"/>
<rect x="448.67" y="351.46" width="1.3" height="1.3" fill="#1a4878"/>
<rect x="431.76" y="350.03" width="1.3" height="1.3" fill="#1a4878"/>
<rect x="430.70" y="370.34" width="1.3" height="1.3" fill="#1a4878"/>
<rect x="438.78" y="329.59" width="1.3" height="1.3" fill="#1a4878"/>
<rect x="441.04" y="355.01" width="1.3" height="1.3" fill="#1a4878"/>
<rect x="429.19" y="355.05" width="1.3" height="1.3" fill="#1a4878"/>
<rect x="460.17" y="323.46" width="1.3" height="1.3" fill="#1a4878"/>
<rect x="432.56" y="343.06" width="1.3" height="1.3" fill="#1a4878"/>
<rect x="431.20" y="342.67" width="1.3" height="1.3" fill="#1a4878"/>
<rect x="427.79" y="360.22" width="1.3" height="1.3" fill="#1a4878"/>
<rect x="437.88" y="337.96" width="1.3" height="1.3" fill="#1a4878"/>
<rect x="437.20" y="347.61" width="1.3" height="1.3" fill="#1a4878"/>
<rect x="423.78" y="364.12" width="1.3" height="1.3" fill="#1a4878"/>
<rect x="428.15" y="360.31" width="1.3" height="1.3" fill="#1a4878"/>
<rect x="436.54" y="353.12" width="1.3" height="1.3" fill="#1a4878"/>
<rect x="438.58" y="348.21" width="1.3" height="1.3" fill="#1a4878"/>
<rect x="429.64" y="355.30" width="1.3" height="1.3" fill="#1a4878"/>
<rect x="435.10" y="345.30" width="1.3" height="1.3" fill="#1a4878"/>
<rect x="428.84" y="358.06" width="1.3" height="1.3" fill="#1a4878"/>
<rect x="425.10" y="351.49" width="1.3" height="1.3" fill="#1a4878"/>
<rect x="447.15" y="343.88" width="1.3" height="1.3" fill="#1a4878"/>
<rect x="428.83" y="364.04" width="1.3" height="1.3" fill="#1a4878"/>
<rect x="432.98" y="351.93" width="1.3" height="1.3" fill="#1a4878"/>
<rect x="460.17" y="328.38" width="1.3" height="1.3" fill="#1a4878"/>
<rect x="427.36" y="371.58" width="1.3" height="1.3" fill="#1a4878"/>
<rect x="446.50" y="340.66" width="1.3" height="1.3" fill="#1a4878"/>
<rect x="424.35" y="359.37" width="1.3" height="1.3" fill="#1a4878"/>
<rect x="424.35" y="343.14" width="1.3" height="1.3" fill="#1a4878"/>
<rect x="442.46" y="340.56" width="1.3" height="1.3" fill="#1a4878"/>
<rect x="430.59" y="368.90" width="1.3" height="1.3" fill="#1a4878"/>
<rect x="430.90" y="365.04" width="1.3" height="1.3" fill="#1a4878"/>
<rect x="436.64" y="367.08" width="1.3" height="1.3" fill="#1a4878"/>
<rect x="426.80" y="351.61" width="1.3" height="1.3" fill="#1a4878"/>
<rect x="450.27" y="352.50" width="1.3" height="1.3" fill="#1a4878"/>
<rect x="424.57" y="355.71" width="1.3" height="1.3" fill="#1a4878"/>
<rect x="439.29" y="356.61" width="1.3" height="1.3" fill="#1a4878"/>
<rect x="427.75" y="361.50" width="1.3" height="1.3" fill="#1a4878"/>
<rect x="425.70" y="362.74" width="1.3" height="1.3" fill="#1a4878"/>
<rect x="444.22" y="337.81" width="1.3" height="1.3" fill="#1a4878"/>
<rect x="458.20" y="334.33" width="1.3" height="1.3" fill="#1a4878"/>
<rect x="430.85" y="361.39" width="1.3" height="1.3" fill="#1a4878"/>
<rect x="430.92" y="363.48" width="1.3" height="1.3" fill="#1a4878"/>
<rect x="423.89" y="357.27" width="1.3" height="1.3" fill="#1a4878"/>
<rect x="446.97" y="333.67" width="1.3" height="1.3" fill="#1a4878"/>
<rect x="445.37" y="341.00" width="1.3" height="1.3" fill="#1a4878"/>
<rect x="427.64" y="357.14" width="1.3" height="1.3" fill="#1a4878"/>
<rect x="429.41" y="362.99" width="1.3" height="1.3" fill="#1a4878"/>
<rect x="424.12" y="367.65" width="1.3" height="1.3" fill="#1a4878"/>
<rect x="431.71" y="353.38" width="1.3" height="1.3" fill="#1a4878"/>
<rect x="428.85" y="348.13" width="1.3" height="1.3" fill="#1a4878"/>
<rect x="433.05" y="349.26" width="1.3" height="1.3" fill="#1a4878"/>
<rect x="443.78" y="352.49" width="1.3" height="1.3" fill="#1a4878"/>
<rect x="423.41" y="357.47" width="1.3" height="1.3" fill="#1a4878"/>
<rect x="427.78" y="350.03" width="1.3" height="1.3" fill="#1a4878"/>
<rect x="434.32" y="345.01" width="1.3" height="1.3" fill="#1a4878"/>
<rect x="438.33" y="366.10" width="1.3" height="1.3" fill="#1a4878"/>
<rect x="437.86" y="354.89" width="1.3" height="1.3" fill="#1a4878"/>
<rect x="427.46" y="360.23" width="1.3" height="1.3" fill="#1a4878"/>
<rect x="438.37" y="341.82" width="1.3" height="1.3" fill="#1a4878"/>
<rect x="441.12" y="361.51" width="1.3" height="1.3" fill="#1a4878"/>
<rect x="428.25" y="370.98" width="1.3" height="1.3" fill="#1a4878"/>
<rect x="431.06" y="351.01" width="1.3" height="1.3" fill="#1a4878"/>
<rect x="427.43" y="356.42" width="1.3" height="1.3" fill="#1a4878"/>
<rect x="433.46" y="345.89" width="1.3" height="1.3" fill="#1a4878"/>
<rect x="427.17" y="362.63" width="1.3" height="1.3" fill="#1a4878"/>
<rect x="427.43" y="347.92" width="1.3" height="1.3" fill="#1a4878"/>
<rect x="442.10" y="347.20" width="1.3" height="1.3" fill="#1a4878"/>
<rect x="433.41" y="352.21" width="1.3" height="1.3" fill="#1a4878"/>
<rect x="433.24" y="354.62" width="1.3" height="1.3" fill="#1a4878"/>
<rect x="429.63" y="363.76" width="1.3" height="1.3" fill="#1a4878"/>
<rect x="428.00" y="347.82" width="1.3" height="1.3" fill="#1a4878"/>
<rect x="436.07" y="350.40" width="1.3" height="1.3" fill="#1a4878"/>
<rect x="430.34" y="355.07" width="1.3" height="1.3" fill="#1a4878"/>
<rect x="434.45" y="356.88" width="1.3" height="1.3" fill="#1a4878"/>
<rect x="433.19" y="351.53" width="1.3" height="1.3" fill="#1a4878"/>
<rect x="427.50" y="362.20" width="1.3" height="1.3" fill="#1a4878"/>
<rect x="426.42" y="364.34" width="1.3" height="1.3" fill="#1a4878"/>
<rect x="439.70" y="368.04" width="1.3" height="1.3" fill="#1a4878"/>
<rect x="430.03" y="359.53" width="1.3" height="1.3" fill="#1a4878"/>
<rect x="428.11" y="356.69" width="1.3" height="1.3" fill="#1a4878"/>
<rect x="442.58" y="345.00" width="1.3" height="1.3" fill="#1a4878"/>
<rect x="430.81" y="359.03" width="1.3" height="1.3" fill="#1a4878"/>
<rect x="430.89" y="349.16" width="1.3" height="1.3" fill="#1a4878"/>
<rect x="429.29" y="363.27" width="1.3" height="1.3" fill="#1a4878"/>
<rect x="425.44" y="365.11" width="1.3" height="1.3" fill="#1a4878"/>
<rect x="425.02" y="354.15" width="1.3" height="1.3" fill="#1a4878"/>
<rect x="434.47" y="353.90" width="1.3" height="1.3" fill="#1a4878"/>
<rect x="447.27" y="348.70" width="1.3" height="1.3" fill="#1a4878"/>
<rect x="438.21" y="342.66" width="1.3" height="1.3" fill="#1a4878"/>
<rect x="424.53" y="367.83" width="1.3" height="1.3" fill="#1a4878"/>
<rect x="426.71" y="353.41" width="1.3" height="1.3" fill="#1a4878"/>
<rect x="444.85" y="355.78" width="1.3" height="1.3" fill="#1a4878"/>
<rect x="441.58" y="349.92" width="1.3" height="1.3" fill="#1a4878"/>
<rect x="429.30" y="359.65" width="1.3" height="1.3" fill="#1a4878"/>
<rect x="429.69" y="367.19" width="1.3" height="1.3" fill="#1a4878"/>
<rect x="426.41" y="365.28" width="1.3" height="1.3" fill="#1a4878"/>
<rect x="435.65" y="335.46" width="1.3" height="1.3" fill="#1a4878"/>
<rect x="460.17" y="336.11" width="1.3" height="1.3" fill="#1a4878"/>
<rect x="424.04" y="362.48" width="1.3" height="1.3" fill="#1a4878"/>
<rect x="426.67" y="347.59" width="1.3" height="1.3" fill="#1a4878"/>
<rect x="436.40" y="356.26" width="1.3" height="1.3" fill="#1a4878"/>
<rect x="440.23" y="342.96" width="1.3" height="1.3" fill="#1a4878"/>
<rect x="424.30" y="362.90" width="1.3" height="1.3" fill="#1a4878"/>
<rect x="430.20" y="355.47" width="1.3" height="1.3" fill="#1a4878"/>
<rect x="432.70" y="355.92" width="1.3" height="1.3" fill="#1a4878"/>
<rect x="433.14" y="357.32" width="1.3" height="1.3" fill="#1a4878"/>
<rect x="426.84" y="349.93" width="1.3" height="1.3" fill="#1a4878"/>
<rect x="434.51" y="348.95" width="1.3" height="1.3" fill="#1a4878"/>
<rect x="424.39" y="361.04" width="1.3" height="1.3" fill="#1a4878"/>
<rect x="438.92" y="359.35" width="1.3" height="1.3" fill="#1a4878"/>
<rect x="442.19" y="349.54" width="1.3" height="1.3" fill="#1a4878"/>
<rect x="434.87" y="352.83" width="1.3" height="1.3" fill="#1a4878"/>
<rect x="433.36" y="344.62" width="1.3" height="1.3" fill="#1a4878"/>
<rect x="429.24" y="346.88" width="1.3" height="1.3" fill="#1a4878"/>
<rect x="427.35" y="363.10" width="1.3" height="1.3" fill="#1a4878"/>
<rect x="437.78" y="358.11" width="1.3" height="1.3" fill="#1a4878"/>
<rect x="429.43" y="350.67" width="1.3" height="1.3" fill="#1a4878"/>
<rect x="443.67" y="361.54" width="1.3" height="1.3" fill="#1a4878"/>
<rect x="435.79" y="336.84" width="1.3" height="1.3" fill="#1a4878"/>
<rect x="443.46" y="347.25" width="1.3" height="1.3" fill="#1a4878"/>
<rect x="428.20" y="358.90" width="1.3" height="1.3" fill="#1a4878"/>
<rect x="425.83" y="360.46" width="1.3" height="1.3" fill="#1a4878"/>
<rect x="430.52" y="356.26" width="1.3" height="1.3" fill="#1a4878"/>
<rect x="443.29" y="347.28" width="1.3" height="1.3" fill="#1a4878"/>
<rect x="424.80" y="354.62" width="1.3" height="1.3" fill="#1a4878"/>
<rect x="426.13" y="361.22" width="1.3" height="1.3" fill="#1a4878"/>
<rect x="430.86" y="357.28" width="1.3" height="1.3" fill="#1a4878"/>
<rect x="426.41" y="359.96" width="1.3" height="1.3" fill="#1a4878"/>
<rect x="460.17" y="339.70" width="1.3" height="1.3" fill="#1a4878"/>
<rect x="430.84" y="347.85" width="1.3" height="1.3" fill="#1a4878"/>
<rect x="438.13" y="343.05" width="1.3" height="1.3" fill="#1a4878"/>
<rect x="439.39" y="364.81" width="1.3" height="1.3" fill="#1a4878"/>
<rect x="426.98" y="357.44" width="1.3" height="1.3" fill="#1a4878"/>
<rect x="435.73" y="341.38" width="1.3" height="1.3" fill="#1a4878"/>
<rect x="435.46" y="353.17" width="1.3" height="1.3" fill="#1a4878"/>
<rect x="432.02" y="355.54" width="1.3" height="1.3" fill="#1a4878"/>
<rect x="433.58" y="348.12" width="1.3" height="1.3" fill="#1a4878"/>
<rect x="429.60" y="361.06" width="1.3" height="1.3" fill="#1a4878"/>
<rect x="427.02" y="352.05" width="1.3" height="1.3" fill="#1a4878"/>
<rect x="444.64" y="334.49" width="1.3" height="1.3" fill="#1a4878"/>
<rect x="439.33" y="341.29" width="1.3" height="1.3" fill="#1a4878"/>
<rect x="431.73" y="349.96" width="1.3" height="1.3" fill="#1a4878"/>
<rect x="426.21" y="359.86" width="1.3" height="1.3" fill="#1a4878"/>
<rect x="427.57" y="353.57" width="1.3" height="1.3" fill="#1a4878"/>
<rect x="428.31" y="357.73" width="1.3" height="1.3" fill="#1a4878"/>
<rect x="434.85" y="341.89" width="1.3" height="1.3" fill="#1a4878"/>
<rect x="427.30" y="363.16" width="1.3" height="1.3" fill="#1a4878"/>
<rect x="438.90" y="357.83" width="1.3" height="1.3" fill="#1a4878"/>
<rect x="435.31" y="355.76" width="1.3" height="1.3" fill="#1a4878"/>
<rect x="431.04" y="366.70" width="1.3" height="1.3" fill="#1a4878"/>
<rect x="437.80" y="353.54" width="1.3" height="1.3" fill="#1a4878"/>
<rect x="426.84" y="346.86" width="1.3" height="1.3" fill="#1a4878"/>
<rect x="437.79" y="321.29" width="1.3" height="1.3" fill="#1a4878"/>
<rect x="434.92" y="354.39" width="1.3" height="1.3" fill="#1a4878"/>
<rect x="432.52" y="342.78" width="1.3" height="1.3" fill="#1a4878"/>
<rect x="431.56" y="351.52" width="1.3" height="1.3" fill="#1a4878"/>
<rect x="435.89" y="357.96" width="1.3" height="1.3" fill="#1a4878"/>
<rect x="432.67" y="357.06" width="1.3" height="1.3" fill="#1a4878"/>
<rect x="425.50" y="354.82" width="1.3" height="1.3" fill="#1a4878"/>
<rect x="437.32" y="349.31" width="1.3" height="1.3" fill="#1a4878"/>
<rect x="426.80" y="369.31" width="1.3" height="1.3" fill="#1a4878"/>
<rect x="435.61" y="352.01" width="1.3" height="1.3" fill="#1a4878"/>
<rect x="424.14" y="360.72" width="1.3" height="1.3" fill="#1a4878"/>
<rect x="424.61" y="360.18" width="1.3" height="1.3" fill="#1a4878"/>
<rect x="432.78" y="351.08" width="1.3" height="1.3" fill="#1a4878"/>
<rect x="433.35" y="351.87" width="1.3" height="1.3" fill="#1a4878"/>
<rect x="425.88" y="361.06" width="1.3" height="1.3" fill="#1a4878"/>
<rect x="428.66" y="358.21" width="1.3" height="1.3" fill="#1a4878"/>
<rect x="433.77" y="348.34" width="1.3" height="1.3" fill="#1a4878"/>
<rect x="450.12" y="367.72" width="1.3" height="1.3" fill="#1a4878"/>
<rect x="434.86" y="353.33" width="1.3" height="1.3" fill="#1a4878"/>
<rect x="460.17" y="319.27" width="1.3" height="1.3" fill="#1a4878"/>
<rect x="424.23" y="358.39" width="1.3" height="1.3" fill="#1a4878"/>
<rect x="428.61" y="350.98" width="1.3" height="1.3" fill="#1a4878"/>
<rect x="426.20" y="359.32" width="1.3" height="1.3" fill="#1a4878"/>
<rect x="430.87" y="355.67" width="1.3" height="1.3" fill="#1a4878"/>
<rect x="428.29" y="367.83" width="1.3" height="1.3" fill="#1a4878"/>
<rect x="435.38" y="343.97" width="1.3" height="1.3" fill="#1a4878"/>
<rect x="431.28" y="361.36" width="1.3" height="1.3" fill="#1a4878"/>
<rect x="433.24" y="349.21" width="1.3" height="1.3" fill="#1a4878"/>
<rect x="430.59" y="355.36" width="1.3" height="1.3" fill="#1a4878"/>
<rect x="446.49" y="353.84" width="1.3" height="1.3" fill="#1a4878"/>
<rect x="428.42" y="368.18" width="1.3" height="1.3" fill="#1a4878"/>
<rect x="427.72" y="361.78" width="1.3" height="1.3" fill="#1a4878"/>
<rect x="426.58" y="362.25" width="1.3" height="1.3" fill="#1a4878"/>
<rect x="453.00" y="339.65" width="1.3" height="1.3" fill="#1a4878"/>
<rect x="430.98" y="340.76" width="1.3" height="1.3" fill="#1a4878"/>
<rect x="431.34" y="366.02" width="1.3" height="1.3" fill="#1a4878"/>
<rect x="434.88" y="358.76" width="1.3" height="1.3" fill="#1a4878"/>
<rect x="450.18" y="353.25" width="1.3" height="1.3" fill="#1a4878"/>
<rect x="428.31" y="366.47" width="1.3" height="1.3" fill="#1a4878"/>
<rect x="432.44" y="360.70" width="1.3" height="1.3" fill="#1a4878"/>
<rect x="431.30" y="357.17" width="1.3" height="1.3" fill="#1a4878"/>
<rect x="428.14" y="351.76" width="1.3" height="1.3" fill="#1a4878"/>
<rect x="440.23" y="347.04" width="1.3" height="1.3" fill="#1a4878"/>
<rect x="426.83" y="364.16" width="1.3" height="1.3" fill="#1a4878"/>
<rect x="433.77" y="335.74" width="1.3" height="1.3" fill="#1a4878"/>
<rect x="428.95" y="361.28" width="1.3" height="1.3" fill="#1a4878"/>
<rect x="427.74" y="363.80" width="1.3" height="1.3" fill="#1a4878"/>
<rect x="426.53" y="359.63" width="1.3" height="1.3" fill="#1a4878"/>
<rect x="446.87" y="342.28" width="1.3" height="1.3" fill="#1a4878"/>
<rect x="428.66" y="366.37" width="1.3" height="1.3" fill="#1a4878"/>
<rect x="433.32" y="353.28" width="1.3" height="1.3" fill="#1a4878"/>
<rect x="425.57" y="364.94" width="1.3" height="1.3" fill="#1a4878"/>
<rect x="431.46" y="347.92" width="1.3" height="1.3" fill="#1a4878"/>
<rect x="436.93" y="348.59" width="1.3" height="1.3" fill="#1a4878"/>
<rect x="429.70" y="354.01" width="1.3" height="1.3" fill="#1a4878"/>
<rect x="431.67" y="340.03" width="1.3" height="1.3" fill="#1a4878"/>
<rect x="425.91" y="360.96" width="1.3" height="1.3" fill="#1a4878"/>
<rect x="444.46" y="346.75" width="1.3" height="1.3" fill="#1a4878"/>
<rect x="446.74" y="342.82" width="1.3" height="1.3" fill="#1a4878"/>
<rect x="432.80" y="356.06" width="1.3" height="1.3" fill="#1a4878"/>
<rect x="425.05" y="364.63" width="1.3" height="1.3" fill="#1a4878"/>
<rect x="460.17" y="323.09" width="1.3" height="1.3" fill="#1a4878"/>
<rect x="436.73" y="342.93" width="1.3" height="1.3" fill="#1a4878"/>
<rect x="436.38" y="342.76" width="1.3" height="1.3" fill="#1a4878"/>
<rect x="430.03" y="357.11" width="1.3" height="1.3" fill="#1a4878"/>
<rect x="440.79" y="350.21" width="1.3" height="1.3" fill="#1a4878"/>
<rect x="425.21" y="360.73" width="1.3" height="1.3" fill="#1a4878"/>
<rect x="428.49" y="353.35" width="1.3" height="1.3" fill="#1a4878"/>
<rect x="427.63" y="363.67" width="1.3" height="1.3" fill="#1a4878"/>
<rect x="429.65" y="346.48" width="1.3" height="1.3" fill="#1a4878"/>
<rect x="431.42" y="353.55" width="1.3" height="1.3" fill="#1a4878"/>
<rect x="431.81" y="352.33" width="1.3" height="1.3" fill="#1a4878"/>
<rect x="440.14" y="335.65" width="1.3" height="1.3" fill="#1a4878"/>
<rect x="424.25" y="353.68" width="1.3" height="1.3" fill="#1a4878"/>
<rect x="431.73" y="356.49" width="1.3" height="1.3" fill="#1a4878"/>
<rect x="460.17" y="333.90" width="1.3" height="1.3" fill="#1a4878"/>
<rect x="455.87" y="323.22" width="1.3" height="1.3" fill="#1a4878"/>
<rect x="426.30" y="356.08" width="1.3" height="1.3" fill="#1a4878"/>
<rect x="438.04" y="350.34" width="1.3" height="1.3" fill="#1a4878"/>
<rect x="422.65" y="363.17" width="1.3" height="1.3" fill="#1a4878"/>
<rect x="430.49" y="362.38" width="1.3" height="1.3" fill="#1a4878"/>
<rect x="453.54" y="339.81" width="1.3" height="1.3" fill="#1a4878"/>
<rect x="429.30" y="358.12" width="1.3" height="1.3" fill="#1a4878"/>
<rect x="427.34" y="362.23" width="1.3" height="1.3" fill="#1a4878"/>
<rect x="432.42" y="351.69" width="1.3" height="1.3" fill="#1a4878"/>
<rect x="428.68" y="357.33" width="1.3" height="1.3" fill="#1a4878"/>
<rect x="425.02" y="357.08" width="1.3" height="1.3" fill="#1a4878"/>
<rect x="427.49" y="356.53" width="1.3" height="1.3" fill="#1a4878"/>
<rect x="426.80" y="361.13" width="1.3" height="1.3" fill="#1a4878"/>
<rect x="433.33" y="361.57" width="1.3" height="1.3" fill="#1a4878"/>
<rect x="460.17" y="332.14" width="1.3" height="1.3" fill="#1a4878"/>
<rect x="431.25" y="359.53" width="1.3" height="1.3" fill="#1a4878"/>
<rect x="449.44" y="325.31" width="1.3" height="1.3" fill="#1a4878"/>
<rect x="434.01" y="362.35" width="1.3" height="1.3" fill="#1a4878"/>
<rect x="436.59" y="345.89" width="1.3" height="1.3" fill="#1a4878"/>
<rect x="443.22" y="319.25" width="1.3" height="1.3" fill="#1a4878"/>
<rect x="444.08" y="349.13" width="1.3" height="1.3" fill="#1a4878"/>
<rect x="431.13" y="363.47" width="1.3" height="1.3" fill="#1a4878"/>
<rect x="433.03" y="321.23" width="1.3" height="1.3" fill="#1a4878"/>
<rect x="453.33" y="330.08" width="1.3" height="1.3" fill="#1a4878"/>
<rect x="426.28" y="345.15" width="1.3" height="1.3" fill="#1a4878"/>
<rect x="438.71" y="337.90" width="1.3" height="1.3" fill="#1a4878"/>
<rect x="445.10" y="323.31" width="1.3" height="1.3" fill="#1a4878"/>
<rect x="427.35" y="343.94" width="1.3" height="1.3" fill="#1a4878"/>
<rect x="427.80" y="358.88" width="1.3" height="1.3" fill="#1a4878"/>
<rect x="445.35" y="347.98" width="1.3" height="1.3" fill="#1a4878"/>
<rect x="437.04" y="351.02" width="1.3" height="1.3" fill="#1a4878"/>
<rect x="436.09" y="342.91" width="1.3" height="1.3" fill="#1a4878"/>
<rect x="449.02" y="328.66" width="1.3" height="1.3" fill="#1a4878"/>
<rect x="428.87" y="355.10" width="1.3" height="1.3" fill="#1a4878"/>
<rect x="451.09" y="343.28" width="1.3" height="1.3" fill="#1a4878"/>
<rect x="431.88" y="362.24" width="1.3" height="1.3" fill="#1a4878"/>
<rect x="438.69" y="342.48" width="1.3" height="1.3" fill="#1a4878"/>
<rect x="436.90" y="321.89" width="1.3" height="1.3" fill="#1a4878"/>
<rect x="446.08" y="323.66" width="1.3" height="1.3" fill="#1a4878"/>
<rect x="442.69" y="338.10" width="1.3" height="1.3" fill="#1a4878"/>
<rect x="449.06" y="320.18" width="1.3" height="1.3" fill="#1a4878"/>
<rect x="436.91" y="349.07" width="1.3" height="1.3" fill="#1a4878"/>
<rect x="428.14" y="348.58" width="1.3" height="1.3" fill="#1a4878"/>
<rect x="427.69" y="355.72" width="1.3" height="1.3" fill="#1a4878"/>
<rect x="443.19" y="354.61" width="1.3" height="1.3" fill="#1a4878"/>
<rect x="434.64" y="343.74" width="1.3" height="1.3" fill="#1a4878"/>
<rect x="450.00" y="322.90" width="1.3" height="1.3" fill="#1a4878"/>
<rect x="446.35" y="330.02" width="1.3" height="1.3" fill="#1a4878"/>
<rect x="427.64" y="358.66" width="1.3" height="1.3" fill="#1a4878"/>
<rect x="447.38" y="314.99" width="1.3" height="1.3" fill="#1a4878"/>
<rect x="434.13" y="339.09" width="1.3" height="1.3" fill="#1a4878"/>
<rect x="448.41" y="323.08" width="1.3" height="1.3" fill="#1a4878"/>
<rect x="436.82" y="329.65" width="1.3" height="1.3" fill="#1a4878"/>
<rect x="443.36" y="324.37" width="1.3" height="1.3" fill="#1a4878"/>
<rect x="454.62" y="310.20" width="1.3" height="1.3" fill="#1a4878"/>
<rect x="439.13" y="350.49" width="1.3" height="1.3" fill="#1a4878"/>
<rect x="450.89" y="332.66" width="1.3" height="1.3" fill="#1a4878"/>
<rect x="437.89" y="332.56" width="1.3" height="1.3" fill="#1a4878"/>
<rect x="420.62" y="377.28" width="1.3" height="1.3" fill="#1a4878"/>
<rect x="489.47" y="296.55" width="1.3" height="1.3" fill="#1a4878"/>
<rect x="464.27" y="306.69" width="1.3" height="1.3" fill="#1a4878"/>
<rect x="463.39" y="307.28" width="1.3" height="1.3" fill="#1a4878"/>
<rect x="451.38" y="303.38" width="1.3" height="1.3" fill="#1a4878"/>
<rect x="490.94" y="314.10" width="1.3" height="1.3" fill="#1a4878"/>
<rect x="492.99" y="330.68" width="1.3" height="1.3" fill="#1a4878"/>
<rect x="495.92" y="331.07" width="1.3" height="1.3" fill="#1a4878"/>
<rect x="507.64" y="320.34" width="1.3" height="1.3" fill="#1a4878"/>
<rect x="485.08" y="338.48" width="1.3" height="1.3" fill="#1a4878"/>
<rect x="472.48" y="351.74" width="1.3" height="1.3" fill="#1a4878"/>
<rect x="470.72" y="334.58" width="1.3" height="1.3" fill="#1a4878"/>
<rect x="468.96" y="336.53" width="1.3" height="1.3" fill="#1a4878"/>
<rect x="457.24" y="325.80" width="1.3" height="1.3" fill="#1a4878"/>
<rect x="454.90" y="326.78" width="1.3" height="1.3" fill="#1a4878"/>
<rect x="460.76" y="335.55" width="1.3" height="1.3" fill="#1a4878"/>
<rect x="466.03" y="323.85" width="1.3" height="1.3" fill="#1a4878"/>
<rect x="474.82" y="327.75" width="1.3" height="1.3" fill="#1a4878"/>
<rect x="477.75" y="326.78" width="1.3" height="1.3" fill="#1a4878"/>
<rect x="446.99" y="314.10" width="1.3" height="1.3" fill="#1a4878"/>
<rect x="442.59" y="315.08" width="1.3" height="1.3" fill="#1a4878"/>
<rect x="449.92" y="319.95" width="1.3" height="1.3" fill="#1a4878"/>
<rect x="439.66" y="321.90" width="1.3" height="1.3" fill="#1a4878"/>
<rect x="437.32" y="323.85" width="1.3" height="1.3" fill="#1a4878"/>
<rect x="460.17" y="345.30" width="1.3" height="1.3" fill="#1a4878"/>
<rect x="455.78" y="349.20" width="1.3" height="1.3" fill="#1a4878"/>
<rect x="452.85" y="353.10" width="1.3" height="1.3" fill="#1a4878"/>
<rect x="464.57" y="343.35" width="1.3" height="1.3" fill="#1a4878"/>
<rect x="458.71" y="318.98" width="1.3" height="1.3" fill="#1a4878"/>
<rect x="471.89" y="325.80" width="1.3" height="1.3" fill="#1a4878"/>
<line x1="419.80" y1="359.60" x2="509.17" y2="305.89" stroke="#1d3f7a" stroke-width="1.3"/>
<text x="365.10" y="427.50" font-size="13.7" font-weight="bold" fill="#0a0a0a" textLength="9.77" lengthAdjust="spacingAndGlyphs">G</text>
<line x1="416.90" y1="444.00" x2="416.90" y2="534.50" stroke="#151515" stroke-width="1.3"/>
<line x1="413.40" y1="534.50" x2="416.90" y2="534.50" stroke="#151515" stroke-width="1.3"/>
<text x="410.60" y="537.52" font-size="8.4" stroke="#333" stroke-width="0.15" text-anchor="end" textLength="10.74" lengthAdjust="spacingAndGlyphs">0.0</text>
<line x1="413.40" y1="517.00" x2="416.90" y2="517.00" stroke="#151515" stroke-width="1.3"/>
<text x="410.60" y="520.02" font-size="8.4" stroke="#333" stroke-width="0.15" text-anchor="end" textLength="10.74" lengthAdjust="spacingAndGlyphs">0.5</text>
<line x1="413.40" y1="499.50" x2="416.90" y2="499.50" stroke="#151515" stroke-width="1.3"/>
<text x="410.60" y="502.52" font-size="8.4" stroke="#333" stroke-width="0.15" text-anchor="end" textLength="10.74" lengthAdjust="spacingAndGlyphs">1.0</text>
<line x1="413.40" y1="482.00" x2="416.90" y2="482.00" stroke="#151515" stroke-width="1.3"/>
<text x="410.60" y="485.02" font-size="8.4" stroke="#333" stroke-width="0.15" text-anchor="end" textLength="10.74" lengthAdjust="spacingAndGlyphs">1.5</text>
<line x1="413.40" y1="464.50" x2="416.90" y2="464.50" stroke="#151515" stroke-width="1.3"/>
<text x="410.60" y="467.52" font-size="8.4" stroke="#333" stroke-width="0.15" text-anchor="end" textLength="10.74" lengthAdjust="spacingAndGlyphs">2.0</text>
<line x1="413.40" y1="447.00" x2="416.90" y2="447.00" stroke="#151515" stroke-width="1.3"/>
<text x="410.60" y="450.02" font-size="8.4" stroke="#333" stroke-width="0.15" text-anchor="end" textLength="10.74" lengthAdjust="spacingAndGlyphs">2.5</text>
<line x1="415.30" y1="531.00" x2="416.90" y2="531.00" stroke="#151515" stroke-width="0.7"/>
<line x1="415.30" y1="527.50" x2="416.90" y2="527.50" stroke="#151515" stroke-width="0.7"/>
<line x1="415.30" y1="524.00" x2="416.90" y2="524.00" stroke="#151515" stroke-width="0.7"/>
<line x1="415.30" y1="520.50" x2="416.90" y2="520.50" stroke="#151515" stroke-width="0.7"/>
<line x1="415.30" y1="513.50" x2="416.90" y2="513.50" stroke="#151515" stroke-width="0.7"/>
<line x1="415.30" y1="510.00" x2="416.90" y2="510.00" stroke="#151515" stroke-width="0.7"/>
<line x1="415.30" y1="506.50" x2="416.90" y2="506.50" stroke="#151515" stroke-width="0.7"/>
<line x1="415.30" y1="503.00" x2="416.90" y2="503.00" stroke="#151515" stroke-width="0.7"/>
<line x1="415.30" y1="496.00" x2="416.90" y2="496.00" stroke="#151515" stroke-width="0.7"/>
<line x1="415.30" y1="492.50" x2="416.90" y2="492.50" stroke="#151515" stroke-width="0.7"/>
<line x1="415.30" y1="489.00" x2="416.90" y2="489.00" stroke="#151515" stroke-width="0.7"/>
<line x1="415.30" y1="485.50" x2="416.90" y2="485.50" stroke="#151515" stroke-width="0.7"/>
<line x1="415.30" y1="478.50" x2="416.90" y2="478.50" stroke="#151515" stroke-width="0.7"/>
<line x1="415.30" y1="475.00" x2="416.90" y2="475.00" stroke="#151515" stroke-width="0.7"/>
<line x1="415.30" y1="471.50" x2="416.90" y2="471.50" stroke="#151515" stroke-width="0.7"/>
<line x1="415.30" y1="468.00" x2="416.90" y2="468.00" stroke="#151515" stroke-width="0.7"/>
<line x1="415.30" y1="461.00" x2="416.90" y2="461.00" stroke="#151515" stroke-width="0.7"/>
<line x1="415.30" y1="457.50" x2="416.90" y2="457.50" stroke="#151515" stroke-width="0.7"/>
<line x1="415.30" y1="454.00" x2="416.90" y2="454.00" stroke="#151515" stroke-width="0.7"/>
<line x1="415.30" y1="450.50" x2="416.90" y2="450.50" stroke="#151515" stroke-width="0.7"/>
<line x1="416.90" y1="534.50" x2="511.50" y2="534.50" stroke="#151515" stroke-width="1.3"/>
<line x1="425.50" y1="499.50" x2="425.50" y2="497.75" stroke="#505050" stroke-width="0.9"/>
<line x1="423.50" y1="497.75" x2="427.50" y2="497.75" stroke="#505050" stroke-width="0.9"/>
<rect x="421.80" y="499.50" width="7.80" height="35.00" fill="#cc0a2c"/>
<line x1="433.50" y1="525.05" x2="433.50" y2="518.75" stroke="#505050" stroke-width="0.9"/>
<line x1="431.50" y1="518.75" x2="435.50" y2="518.75" stroke="#505050" stroke-width="0.9"/>
<rect x="430.20" y="525.05" width="6.50" height="9.45" fill="#a5bd86"/>
<line x1="441.50" y1="492.50" x2="441.50" y2="484.80" stroke="#505050" stroke-width="0.9"/>
<line x1="439.50" y1="484.80" x2="443.50" y2="484.80" stroke="#505050" stroke-width="0.9"/>
<rect x="437.60" y="492.50" width="7.80" height="42.00" fill="#f08c10"/>
<line x1="433.40" y1="534.50" x2="433.40" y2="536.70" stroke="#151515" stroke-width="0.8"/>
<line x1="456.50" y1="499.50" x2="456.50" y2="489.70" stroke="#505050" stroke-width="0.9"/>
<line x1="454.50" y1="489.70" x2="458.50" y2="489.70" stroke="#505050" stroke-width="0.9"/>
<rect x="452.90" y="499.50" width="7.80" height="35.00" fill="#cc0a2c"/>
<line x1="464.50" y1="528.20" x2="464.50" y2="527.50" stroke="#505050" stroke-width="0.9"/>
<line x1="462.50" y1="527.50" x2="466.50" y2="527.50" stroke="#505050" stroke-width="0.9"/>
<rect x="461.30" y="528.20" width="6.50" height="6.30" fill="#a5bd86"/>
<line x1="472.50" y1="496.35" x2="472.50" y2="472.20" stroke="#505050" stroke-width="0.9"/>
<line x1="470.50" y1="472.20" x2="474.50" y2="472.20" stroke="#505050" stroke-width="0.9"/>
<rect x="468.70" y="496.35" width="7.80" height="38.15" fill="#f08c10"/>
<line x1="464.50" y1="534.50" x2="464.50" y2="536.70" stroke="#151515" stroke-width="0.8"/>
<line x1="488.50" y1="499.50" x2="488.50" y2="496.00" stroke="#505050" stroke-width="0.9"/>
<line x1="486.50" y1="496.00" x2="490.50" y2="496.00" stroke="#505050" stroke-width="0.9"/>
<rect x="484.20" y="499.50" width="7.80" height="35.00" fill="#cc0a2c"/>
<line x1="495.50" y1="517.70" x2="495.50" y2="515.25" stroke="#505050" stroke-width="0.9"/>
<line x1="493.50" y1="515.25" x2="497.50" y2="515.25" stroke="#505050" stroke-width="0.9"/>
<rect x="492.60" y="517.70" width="6.50" height="16.80" fill="#a5bd86"/>
<line x1="503.50" y1="469.75" x2="503.50" y2="459.25" stroke="#505050" stroke-width="0.9"/>
<line x1="501.50" y1="459.25" x2="505.50" y2="459.25" stroke="#505050" stroke-width="0.9"/>
<rect x="500.00" y="469.75" width="7.80" height="64.75" fill="#f08c10"/>
<line x1="495.80" y1="534.50" x2="495.80" y2="536.70" stroke="#151515" stroke-width="0.8"/>
<path d="M433.40,482.40 V479.70 H441.50 V482.40" stroke="#151515" stroke-width="1.0" fill="none"/>
<circle cx="437.45" cy="476.90" r="1.0" fill="#2a2a2a"/>
<path d="M464.60,469.60 V466.90 H472.80 V469.60" stroke="#151515" stroke-width="1.0" fill="none"/>
<circle cx="468.70" cy="463.80" r="1.0" fill="#2a2a2a"/>
<path d="M495.40,454.70 V452.00 H504.60 V454.70" stroke="#151515" stroke-width="1.0" fill="none"/>
<circle cx="496.60" cy="449.20" r="1.0" fill="#2a2a2a"/>
<circle cx="500.00" cy="449.20" r="1.0" fill="#2a2a2a"/>
<circle cx="503.40" cy="449.20" r="1.0" fill="#2a2a2a"/>
<text x="434.00" y="548.70" font-size="8.6" stroke="#333" stroke-width="0.15" text-anchor="middle" textLength="17.50" lengthAdjust="spacingAndGlyphs">EZH2</text>
<text x="464.00" y="548.70" font-size="8.6" stroke="#333" stroke-width="0.15" text-anchor="middle" textLength="19.10" lengthAdjust="spacingAndGlyphs">PCNT</text>
<text x="495.80" y="548.70" font-size="8.6" stroke="#333" stroke-width="0.15" text-anchor="middle" textLength="20.00" lengthAdjust="spacingAndGlyphs">SMC4</text>
<rect x="421.50" y="436.80" width="3.90" height="3.90" fill="#cc0a2c"/>
<rect x="421.50" y="443.90" width="3.90" height="3.90" fill="#a5bd86"/>
<rect x="421.50" y="451.00" width="3.90" height="3.90" fill="#f08c10"/>
<text x="428.00" y="441.60" font-size="7.8" stroke="#333" stroke-width="0.15" textLength="13.60" lengthAdjust="spacingAndGlyphs">UNT</text>
<text x="428.00" y="448.60" font-size="7.8" stroke="#333" stroke-width="0.15" textLength="15.00" lengthAdjust="spacingAndGlyphs">PCW</text>
<text x="428.00" y="455.80" font-size="7.8" stroke="#333" stroke-width="0.15" textLength="16.00" lengthAdjust="spacingAndGlyphs">T121</text>
<path d="M448.8,445.5 H450.3 V456 H448.8" stroke="#151515" stroke-width="0.9" fill="none"/>
<text x="453.10" y="454.60" font-size="8.6" stroke="#333" stroke-width="0.15" textLength="35.40" lengthAdjust="spacingAndGlyphs">YKL-5-124</text>
<text x="394.00" y="488.40" font-size="10" stroke="#333" stroke-width="0.15" text-anchor="middle" transform="rotate(-90 394.00 488.40)" textLength="68.10" lengthAdjust="spacingAndGlyphs">E2F1 ChIP: % input</text>
<text x="34.20" y="579.60" font-size="13.7" font-weight="bold" fill="#0a0a0a" textLength="8.73" lengthAdjust="spacingAndGlyphs">H</text>
<line x1="78.60" y1="625.50" x2="78.60" y2="694.50" stroke="#151515" stroke-width="1.3"/>
<line x1="75.10" y1="694.50" x2="78.60" y2="694.50" stroke="#151515" stroke-width="1.3"/>
<text x="71.40" y="697.60" font-size="8.6" stroke="#333" stroke-width="0.15" text-anchor="end" textLength="4.40" lengthAdjust="spacingAndGlyphs">0</text>
<line x1="75.10" y1="672.50" x2="78.60" y2="672.50" stroke="#151515" stroke-width="1.3"/>
<text x="71.40" y="675.60" font-size="8.6" stroke="#333" stroke-width="0.15" text-anchor="end" textLength="8.80" lengthAdjust="spacingAndGlyphs">20</text>
<line x1="75.10" y1="650.50" x2="78.60" y2="650.50" stroke="#151515" stroke-width="1.3"/>
<text x="71.40" y="653.60" font-size="8.6" stroke="#333" stroke-width="0.15" text-anchor="end" textLength="8.80" lengthAdjust="spacingAndGlyphs">40</text>
<line x1="75.10" y1="628.50" x2="78.60" y2="628.50" stroke="#151515" stroke-width="1.3"/>
<text x="71.40" y="631.60" font-size="8.6" stroke="#333" stroke-width="0.15" text-anchor="end" textLength="8.80" lengthAdjust="spacingAndGlyphs">60</text>
<line x1="78.75" y1="694.50" x2="155.00" y2="694.50" stroke="#151515" stroke-width="1.3"/>
<line x1="87.50" y1="652.70" x2="87.50" y2="643.90" stroke="#505050" stroke-width="0.9"/>
<line x1="85.30" y1="643.90" x2="89.70" y2="643.90" stroke="#505050" stroke-width="0.9"/>
<rect x="83.00" y="652.70" width="8.75" height="41.80" fill="#a5bd86"/>
<line x1="97.50" y1="649.40" x2="97.50" y2="640.60" stroke="#505050" stroke-width="0.9"/>
<line x1="95.30" y1="640.60" x2="99.70" y2="640.60" stroke="#505050" stroke-width="0.9"/>
<rect x="93.00" y="649.40" width="8.75" height="45.10" fill="#f08c10"/>
<line x1="92.38" y1="694.50" x2="92.38" y2="696.70" stroke="#151515" stroke-width="0.8"/>
<text x="92.38" y="707.30" font-size="7.8" stroke="#333" stroke-width="0.15" text-anchor="middle">0</text>
<line x1="112.50" y1="679.10" x2="112.50" y2="667.00" stroke="#505050" stroke-width="0.9"/>
<line x1="110.30" y1="667.00" x2="114.70" y2="667.00" stroke="#505050" stroke-width="0.9"/>
<rect x="108.00" y="679.10" width="8.75" height="15.40" fill="#a5bd86"/>
<line x1="121.50" y1="665.90" x2="121.50" y2="661.50" stroke="#505050" stroke-width="0.9"/>
<line x1="119.30" y1="661.50" x2="123.70" y2="661.50" stroke="#505050" stroke-width="0.9"/>
<rect x="117.50" y="665.90" width="8.75" height="28.60" fill="#f08c10"/>
<line x1="117.12" y1="694.50" x2="117.12" y2="696.70" stroke="#151515" stroke-width="0.8"/>
<text x="117.12" y="707.30" font-size="7.8" stroke="#333" stroke-width="0.15" text-anchor="middle">50</text>
<line x1="136.50" y1="687.90" x2="136.50" y2="684.60" stroke="#505050" stroke-width="0.9"/>
<line x1="134.30" y1="684.60" x2="138.70" y2="684.60" stroke="#505050" stroke-width="0.9"/>
<rect x="132.50" y="687.90" width="8.75" height="6.60" fill="#a5bd86"/>
<line x1="146.50" y1="668.10" x2="146.50" y2="659.30" stroke="#505050" stroke-width="0.9"/>
<line x1="144.30" y1="659.30" x2="148.70" y2="659.30" stroke="#505050" stroke-width="0.9"/>
<rect x="142.00" y="668.10" width="8.75" height="26.40" fill="#f08c10"/>
<line x1="141.62" y1="694.50" x2="141.62" y2="696.70" stroke="#151515" stroke-width="0.8"/>
<text x="141.62" y="707.30" font-size="7.8" stroke="#333" stroke-width="0.15" text-anchor="middle">500</text>
<text x="116.60" y="720.30" font-size="9" stroke="#333" stroke-width="0.15" text-anchor="middle" textLength="54.00" lengthAdjust="spacingAndGlyphs">YKL-5-124 (nM)</text>
<text x="55.50" y="659.90" font-size="8.5" stroke="#333" stroke-width="0.15" text-anchor="middle" transform="rotate(-90 55.50 659.90)" textLength="71.00" lengthAdjust="spacingAndGlyphs">% of cells in S phase</text>
<path d="M86.5,640 V610.5 H136.5 V626" stroke="#1a1a1a" stroke-width="0.95" fill="none"/>
<circle cx="110.80" cy="605.70" r="1.0" fill="#2a2a2a"/>
<path d="M86.5,620.5 H112.5 V625" stroke="#1a1a1a" stroke-width="0.95" fill="none"/>
<circle cx="100.60" cy="615.80" r="1.0" fill="#2a2a2a"/>
<path d="M97.5,641.5 V629.5 H146.5 V655" stroke="#1a1a1a" stroke-width="0.95" fill="none"/>
<text x="121.70" y="626.60" font-size="8" stroke="#333" stroke-width="0.15" text-anchor="middle">ns</text>
<path d="M97.5,637.5 H121.5 V656.5" stroke="#1a1a1a" stroke-width="0.95" fill="none"/>
<text x="109.60" y="635.90" font-size="8" stroke="#333" stroke-width="0.15" text-anchor="middle">ns</text>
<path d="M136.5,682.5 V647.5 H144.5 V655" stroke="#1a1a1a" stroke-width="0.95" fill="none"/>
<circle cx="140.50" cy="642.50" r="1.0" fill="#2a2a2a"/>
<rect x="146.20" y="607.40" width="4.20" height="3.60" fill="#a5bd86"/>
<rect x="146.20" y="614.60" width="4.20" height="3.60" fill="#f08c10"/>
<text x="153.50" y="611.70" font-size="8.3" stroke="#333" stroke-width="0.15" textLength="16.90" lengthAdjust="spacingAndGlyphs">PCW</text>
<text x="153.50" y="619.10" font-size="8.3" stroke="#333" stroke-width="0.15" textLength="16.10" lengthAdjust="spacingAndGlyphs">T121</text>
<text x="189.50" y="579.80" font-size="13.7" font-weight="bold" fill="#0a0a0a" textLength="2.58" lengthAdjust="spacingAndGlyphs">I</text>
<line x1="243.70" y1="601.00" x2="243.70" y2="694.20" stroke="#151515" stroke-width="1.3"/>
<line x1="240.20" y1="694.20" x2="243.70" y2="694.20" stroke="#151515" stroke-width="1.3"/>
<text x="238.40" y="697.30" font-size="8.6" stroke="#333" stroke-width="0.15" text-anchor="end" textLength="4.69" lengthAdjust="spacingAndGlyphs">0</text>
<line x1="240.20" y1="679.12" x2="243.70" y2="679.12" stroke="#151515" stroke-width="1.3"/>
<text x="238.40" y="682.22" font-size="8.6" stroke="#333" stroke-width="0.15" text-anchor="end" textLength="9.37" lengthAdjust="spacingAndGlyphs">20</text>
<line x1="240.20" y1="664.04" x2="243.70" y2="664.04" stroke="#151515" stroke-width="1.3"/>
<text x="238.40" y="667.14" font-size="8.6" stroke="#333" stroke-width="0.15" text-anchor="end" textLength="9.37" lengthAdjust="spacingAndGlyphs">40</text>
<line x1="240.20" y1="648.96" x2="243.70" y2="648.96" stroke="#151515" stroke-width="1.3"/>
<text x="238.40" y="652.06" font-size="8.6" stroke="#333" stroke-width="0.15" text-anchor="end" textLength="9.37" lengthAdjust="spacingAndGlyphs">60</text>
<line x1="240.20" y1="633.88" x2="243.70" y2="633.88" stroke="#151515" stroke-width="1.3"/>
<text x="238.40" y="636.98" font-size="8.6" stroke="#333" stroke-width="0.15" text-anchor="end" textLength="9.37" lengthAdjust="spacingAndGlyphs">80</text>
<line x1="240.20" y1="618.80" x2="243.70" y2="618.80" stroke="#151515" stroke-width="1.3"/>
<text x="238.40" y="621.90" font-size="8.6" stroke="#333" stroke-width="0.15" text-anchor="end" textLength="14.06" lengthAdjust="spacingAndGlyphs">100</text>
<line x1="240.20" y1="603.72" x2="243.70" y2="603.72" stroke="#151515" stroke-width="1.3"/>
<text x="238.40" y="606.82" font-size="8.6" stroke="#333" stroke-width="0.15" text-anchor="end" textLength="14.06" lengthAdjust="spacingAndGlyphs">120</text>
<line x1="243.70" y1="694.20" x2="311.50" y2="694.20" stroke="#151515" stroke-width="1.3"/>
<line x1="258.50" y1="694.20" x2="258.50" y2="696.40" stroke="#151515" stroke-width="0.8"/>
<text x="258.50" y="707.30" font-size="7.8" stroke="#333" stroke-width="0.15" text-anchor="middle">0</text>
<line x1="280.60" y1="694.20" x2="280.60" y2="696.40" stroke="#151515" stroke-width="0.8"/>
<text x="280.60" y="707.30" font-size="7.8" stroke="#333" stroke-width="0.15" text-anchor="middle">50</text>
<line x1="302.30" y1="694.20" x2="302.30" y2="696.40" stroke="#151515" stroke-width="0.8"/>
<text x="302.30" y="707.30" font-size="7.8" stroke="#333" stroke-width="0.15" text-anchor="middle">100</text>
<line x1="258.50" y1="620.31" x2="258.50" y2="615.78" stroke="#9fb58a" stroke-width="0.8"/>
<line x1="257.00" y1="615.78" x2="260.00" y2="615.78" stroke="#9fb58a" stroke-width="0.8"/>
<path d="M258.50,620.31 L280.60,674.60 L302.30,676.10" stroke="#a9b98a" stroke-width="1.1" fill="none"/>
<path d="M258.50,619.55 L280.60,666.30 L302.30,668.56" stroke="#e8961a" stroke-width="1.5" fill="none"/>
<circle cx="258.50" cy="620.31" r="1.2" fill="#a9b98a"/>
<circle cx="280.60" cy="674.60" r="1.2" fill="#a9b98a"/>
<circle cx="302.30" cy="676.10" r="1.2" fill="#a9b98a"/>
<circle cx="258.50" cy="619.55" r="1.5" fill="#e8961a"/>
<circle cx="280.60" cy="666.30" r="1.5" fill="#e8961a"/>
<circle cx="302.30" cy="668.56" r="1.5" fill="#e8961a"/>
<circle cx="281.30" cy="662.00" r="1.0" fill="#2a2a2a"/>
<circle cx="302.50" cy="662.40" r="1.0" fill="#2a2a2a"/>
<line x1="249.80" y1="608.00" x2="260.40" y2="608.00" stroke="#a9b98a" stroke-width="1.1"/>
<circle cx="255" cy="608" r="1.1" fill="#a9b98a"/>
<text x="264.90" y="611.00" font-size="8.3" stroke="#333" stroke-width="0.15" textLength="17.30" lengthAdjust="spacingAndGlyphs">PCW</text>
<line x1="286.30" y1="608.00" x2="297.00" y2="608.00" stroke="#e8961a" stroke-width="1.5"/>
<circle cx="291.6" cy="608" r="1.5" fill="#e8961a"/>
<text x="302.70" y="611.00" font-size="8.3" stroke="#333" stroke-width="0.15" textLength="14.00" lengthAdjust="spacingAndGlyphs">T121</text>
<text x="280.10" y="722.60" font-size="10" stroke="#333" stroke-width="0.15" text-anchor="middle" textLength="57.00" lengthAdjust="spacingAndGlyphs">YKL-5-124 (nM)</text>
<text x="204.20" y="647.05" font-size="10" stroke="#333" stroke-width="0.15" text-anchor="middle" transform="rotate(-90 204.20 647.05)" textLength="57.50" lengthAdjust="spacingAndGlyphs">Cell Viability (%)</text>
<text x="216.60" y="647.05" font-size="10" stroke="#333" stroke-width="0.15" text-anchor="middle" transform="rotate(-90 216.60 647.05)" textLength="71.30" lengthAdjust="spacingAndGlyphs">compared to control</text>
<text x="336.30" y="579.60" font-size="13.7" font-weight="bold" fill="#0a0a0a" textLength="5.96" lengthAdjust="spacingAndGlyphs">J</text>
<line x1="377.30" y1="597.00" x2="377.30" y2="694.40" stroke="#151515" stroke-width="1.3"/>
<line x1="373.80" y1="694.40" x2="377.30" y2="694.40" stroke="#151515" stroke-width="1.3"/>
<text x="370.60" y="697.50" font-size="8.6" stroke="#333" stroke-width="0.15" text-anchor="end" textLength="4.54" lengthAdjust="spacingAndGlyphs">0</text>
<line x1="373.80" y1="663.20" x2="377.30" y2="663.20" stroke="#151515" stroke-width="1.3"/>
<text x="370.60" y="666.30" font-size="8.6" stroke="#333" stroke-width="0.15" text-anchor="end" textLength="9.09" lengthAdjust="spacingAndGlyphs">10</text>
<line x1="373.80" y1="632.00" x2="377.30" y2="632.00" stroke="#151515" stroke-width="1.3"/>
<text x="370.60" y="635.10" font-size="8.6" stroke="#333" stroke-width="0.15" text-anchor="end" textLength="9.09" lengthAdjust="spacingAndGlyphs">20</text>
<line x1="373.80" y1="600.80" x2="377.30" y2="600.80" stroke="#151515" stroke-width="1.3"/>
<text x="370.60" y="603.90" font-size="8.6" stroke="#333" stroke-width="0.15" text-anchor="end" textLength="9.09" lengthAdjust="spacingAndGlyphs">30</text>
<line x1="377.30" y1="694.40" x2="468.40" y2="694.40" stroke="#151515" stroke-width="1.3"/>
<line x1="391.50" y1="664.76" x2="391.50" y2="653.84" stroke="#505050" stroke-width="0.9"/>
<line x1="388.70" y1="653.84" x2="394.30" y2="653.84" stroke="#505050" stroke-width="0.9"/>
<rect x="385.00" y="664.76" width="13.80" height="29.64" fill="#a5bd86"/>
<line x1="408.50" y1="623.89" x2="408.50" y2="616.40" stroke="#505050" stroke-width="0.9"/>
<line x1="405.70" y1="616.40" x2="411.30" y2="616.40" stroke="#505050" stroke-width="0.9"/>
<rect x="401.70" y="623.89" width="13.80" height="70.51" fill="#a5bd86"/>
<line x1="439.50" y1="653.84" x2="439.50" y2="642.92" stroke="#505050" stroke-width="0.9"/>
<line x1="436.70" y1="642.92" x2="442.30" y2="642.92" stroke="#505050" stroke-width="0.9"/>
<rect x="433.00" y="653.84" width="13.80" height="40.56" fill="#f08c10"/>
<line x1="456.50" y1="630.44" x2="456.50" y2="620.14" stroke="#505050" stroke-width="0.9"/>
<line x1="453.70" y1="620.14" x2="459.30" y2="620.14" stroke="#505050" stroke-width="0.9"/>
<rect x="449.80" y="630.44" width="13.80" height="63.96" fill="#f08c10"/>
<line x1="391.60" y1="694.40" x2="391.60" y2="696.60" stroke="#151515" stroke-width="0.8"/>
<text x="391.60" y="708.00" font-size="7.8" stroke="#333" stroke-width="0.15" text-anchor="middle">0</text>
<line x1="408.90" y1="694.40" x2="408.90" y2="696.60" stroke="#151515" stroke-width="0.8"/>
<text x="408.90" y="708.00" font-size="7.8" stroke="#333" stroke-width="0.15" text-anchor="middle">50</text>
<line x1="440.00" y1="694.40" x2="440.00" y2="696.60" stroke="#151515" stroke-width="0.8"/>
<text x="440.00" y="708.00" font-size="7.8" stroke="#333" stroke-width="0.15" text-anchor="middle">0</text>
<line x1="457.30" y1="694.40" x2="457.30" y2="696.60" stroke="#151515" stroke-width="0.8"/>
<text x="457.30" y="708.00" font-size="7.8" stroke="#333" stroke-width="0.15" text-anchor="middle">50</text>
<path d="M391.2,648.3 V606.9 H408.5 V615.6" stroke="#151515" stroke-width="0.9" fill="none"/>
<circle cx="400.00" cy="602.70" r="1.0" fill="#2a2a2a"/>
<path d="M439.6,637.7 V606.9 H456.5 V615.6" stroke="#151515" stroke-width="0.9" fill="none"/>
<text x="447.90" y="602.30" font-size="7.5" stroke="#333" stroke-width="0.15" text-anchor="middle">ns</text>
<line x1="380.60" y1="589.20" x2="390.20" y2="589.20" stroke="#a5bd86" stroke-width="2.2"/>
<text x="396.00" y="592.00" font-size="7.8" stroke="#333" stroke-width="0.15" textLength="18.60" lengthAdjust="spacingAndGlyphs">PCW</text>
<line x1="431.20" y1="589.20" x2="441.20" y2="589.20" stroke="#f08c10" stroke-width="2.2"/>
<text x="444.60" y="592.00" font-size="7.8" stroke="#333" stroke-width="0.15" textLength="17.10" lengthAdjust="spacingAndGlyphs">T121</text>
<text x="424.20" y="722.80" font-size="10" stroke="#333" stroke-width="0.15" text-anchor="middle" textLength="57.00" lengthAdjust="spacingAndGlyphs">YKL-5-124 (nM)</text>
<text x="354.60" y="645.30" font-size="10" stroke="#333" stroke-width="0.15" text-anchor="middle" transform="rotate(-90 354.60 645.30)" textLength="44.50" lengthAdjust="spacingAndGlyphs">% Apoptosis</text>
<rect x="0" y="0" width="520" height="1" fill="#3a3a3a"/>
<rect x="0" y="0" width="1.1" height="733" fill="#3a3a3a"/>
<rect x="518.8" y="0" width="1.2" height="733" fill="#3a3a3a"/>
<rect x="0" y="731.5" width="520" height="1.5" fill="#3a3a3a"/></svg></body></html>
